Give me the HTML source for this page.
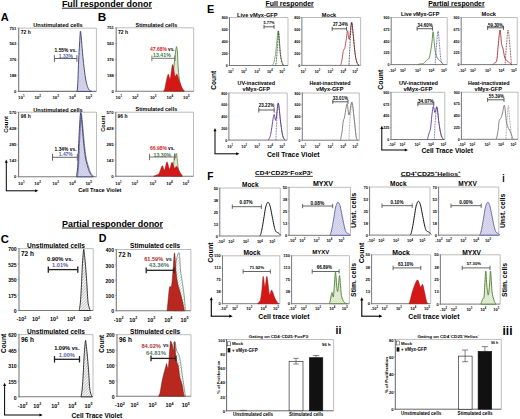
<!DOCTYPE html>
<html><head><meta charset="utf-8"><style>html,body{margin:0;padding:0;background:#fff;width:520px;height:419px;overflow:hidden}svg{display:block}</style></head>
<body><svg width="520" height="419" viewBox="0 0 520 419" font-family='"Liberation Sans", sans-serif'><defs><pattern id="hatchA" patternUnits="userSpaceOnUse" width="1.8" height="1.8" patternTransform="rotate(45)"><rect width="1.8" height="1.8" fill="#dedef0"/><line x1="0" y1="0" x2="0" y2="1.8" stroke="#a0a0cc" stroke-width="0.4"/><line x1="0" y1="0" x2="1.8" y2="0" stroke="#a0a0cc" stroke-width="0.4"/></pattern><pattern id="hatchC" patternUnits="userSpaceOnUse" width="2" height="2" patternTransform="rotate(45)"><rect width="2" height="2" fill="#fff"/><line x1="0" y1="0" x2="0" y2="2" stroke="#555" stroke-width="0.7"/></pattern><pattern id="hatchD" patternUnits="userSpaceOnUse" width="2.2" height="2.2" patternTransform="rotate(45)"><rect width="2.2" height="2.2" fill="#fff"/><line x1="0" y1="0" x2="0" y2="2.2" stroke="#7a9a8e" stroke-width="0.6"/></pattern><pattern id="hatchF" patternUnits="userSpaceOnUse" width="1.6" height="1.6" patternTransform="rotate(45)"><rect width="1.6" height="1.6" fill="#e2e2f2"/><line x1="0" y1="0" x2="0" y2="1.6" stroke="#8a8ac0" stroke-width="0.5"/></pattern><pattern id="hatchG2" patternUnits="userSpaceOnUse" width="1.6" height="1.6" patternTransform="rotate(45)"><rect width="1.6" height="1.6" fill="#edf2e4"/><line x1="0" y1="0" x2="0" y2="1.6" stroke="#9ab27a" stroke-width="0.5"/></pattern></defs><rect width="520" height="419" fill="#fff"/>
<text x="61.90" y="7.05" font-size="8.2" fill="#000" font-weight="bold" textLength="90.10" lengthAdjust="spacingAndGlyphs">Full responder donor</text>
<line x1="61.90" y1="8.20" x2="152.00" y2="8.20" stroke="#000" stroke-width="0.9"/>
<text x="0.80" y="21.03" font-size="11.2" fill="#000" font-weight="bold" textLength="8.00" lengthAdjust="spacingAndGlyphs">A</text>
<text x="97.70" y="20.83" font-size="11.2" fill="#000" font-weight="bold" textLength="8.50" lengthAdjust="spacingAndGlyphs">B</text>
<line x1="18.70" y1="28.10" x2="96.40" y2="28.10" stroke="#a0a0a0" stroke-width="0.7"/>
<line x1="96.40" y1="28.10" x2="96.40" y2="91.40" stroke="#a0a0a0" stroke-width="0.7"/>
<line x1="18.70" y1="27.80" x2="18.70" y2="91.90" stroke="#7a7a7a" stroke-width="1.1"/>
<line x1="18.20" y1="91.40" x2="96.40" y2="91.40" stroke="#7a7a7a" stroke-width="1.1"/>
<line x1="17.40" y1="28.10" x2="18.70" y2="28.10" stroke="#7a7a7a" stroke-width="0.6"/>
<text x="16.40" y="29.61" font-size="4.2" fill="#000" text-anchor="end" font-weight="bold">751</text>
<line x1="17.40" y1="43.93" x2="18.70" y2="43.93" stroke="#7a7a7a" stroke-width="0.6"/>
<text x="16.40" y="45.44" font-size="4.2" fill="#000" text-anchor="end" font-weight="bold">563</text>
<line x1="17.40" y1="59.75" x2="18.70" y2="59.75" stroke="#7a7a7a" stroke-width="0.6"/>
<text x="16.40" y="61.26" font-size="4.2" fill="#000" text-anchor="end" font-weight="bold">376</text>
<line x1="17.40" y1="75.58" x2="18.70" y2="75.58" stroke="#7a7a7a" stroke-width="0.6"/>
<text x="16.40" y="77.09" font-size="4.2" fill="#000" text-anchor="end" font-weight="bold">188</text>
<line x1="17.40" y1="91.40" x2="18.70" y2="91.40" stroke="#7a7a7a" stroke-width="0.6"/>
<text x="16.40" y="92.91" font-size="4.2" fill="#000" text-anchor="end" font-weight="bold">0</text>
<text x="18.10" y="99.18" font-size="4.4" font-weight="bold" fill="#000">10<tspan dy="-1.85" font-size="2.99">1</tspan></text>
<text x="34.40" y="99.18" font-size="4.4" font-weight="bold" fill="#000">10<tspan dy="-1.85" font-size="2.99">2</tspan></text>
<text x="52.40" y="99.18" font-size="4.4" font-weight="bold" fill="#000">10<tspan dy="-1.85" font-size="2.99">3</tspan></text>
<text x="69.10" y="99.18" font-size="4.4" font-weight="bold" fill="#000">10<tspan dy="-1.85" font-size="2.99">4</tspan></text>
<text x="85.50" y="99.18" font-size="4.4" font-weight="bold" fill="#000">10<tspan dy="-1.85" font-size="2.99">5</tspan></text>
<text x="33.20" y="27.42" font-size="5.6" fill="#000" font-weight="bold" textLength="49.50" lengthAdjust="spacingAndGlyphs">Unstimulated cells</text>
<text x="20.80" y="33.78" font-size="4.95" fill="#000" font-weight="bold" textLength="9.90" lengthAdjust="spacingAndGlyphs">72 h</text>
<path d="M76.50,91.40 L76.50,91.40 L76.62,91.18 L76.79,91.10 L76.98,90.89 L77.19,90.30 L77.40,89.09 L77.60,87.00 L77.78,83.75 L77.96,79.49 L78.14,74.60 L78.33,69.47 L78.51,64.47 L78.70,60.00 L78.90,55.87 L79.11,51.74 L79.33,47.74 L79.54,44.03 L79.73,40.73 L79.90,38.00 L80.03,35.82 L80.14,34.07 L80.23,32.74 L80.31,31.82 L80.40,31.28 L80.50,31.10 L80.61,31.28 L80.71,31.82 L80.82,32.74 L80.94,34.07 L81.10,35.82 L81.30,38.00 L81.55,40.84 L81.84,44.36 L82.16,48.31 L82.50,52.40 L82.85,56.39 L83.20,60.00 L83.56,63.34 L83.95,66.65 L84.34,69.84 L84.74,72.85 L85.13,75.60 L85.50,78.00 L85.85,80.02 L86.19,81.71 L86.52,83.14 L86.84,84.37 L87.17,85.47 L87.50,86.50 L87.83,87.44 L88.17,88.21 L88.50,88.86 L88.83,89.41 L89.17,89.88 L89.50,90.30 L89.86,90.65 L90.24,90.91 L90.62,91.09 L90.98,91.21 L91.28,91.31 L91.50,91.40 L91.50,91.40 Z" fill="url(#hatchA)" stroke="#3a3a72" stroke-width="0.9"/>
<text x="54.60" y="51.55" font-size="4.86" fill="#000" font-weight="bold" textLength="21.90" lengthAdjust="spacingAndGlyphs">1.55% vs.</text>
<text x="58.80" y="57.78" font-size="4.94" fill="#5060a8" font-weight="bold" textLength="14.00" lengthAdjust="spacingAndGlyphs">1.33%</text>
<line x1="54.40" y1="58.50" x2="76.90" y2="58.50" stroke="#555" stroke-width="0.9"/>
<line x1="54.40" y1="55.20" x2="54.40" y2="61.80" stroke="#555" stroke-width="0.9"/>
<line x1="76.90" y1="55.20" x2="76.90" y2="61.80" stroke="#555" stroke-width="0.9"/>
<line x1="18.60" y1="112.20" x2="96.50" y2="112.20" stroke="#a0a0a0" stroke-width="0.7"/>
<line x1="96.50" y1="112.20" x2="96.50" y2="176.80" stroke="#a0a0a0" stroke-width="0.7"/>
<line x1="18.60" y1="111.90" x2="18.60" y2="177.30" stroke="#7a7a7a" stroke-width="1.1"/>
<line x1="18.10" y1="176.80" x2="96.50" y2="176.80" stroke="#7a7a7a" stroke-width="1.1"/>
<line x1="17.30" y1="112.20" x2="18.60" y2="112.20" stroke="#7a7a7a" stroke-width="0.6"/>
<text x="16.30" y="113.71" font-size="4.2" fill="#000" text-anchor="end" font-weight="bold">570</text>
<line x1="17.30" y1="128.35" x2="18.60" y2="128.35" stroke="#7a7a7a" stroke-width="0.6"/>
<text x="16.30" y="129.86" font-size="4.2" fill="#000" text-anchor="end" font-weight="bold">428</text>
<line x1="17.30" y1="144.50" x2="18.60" y2="144.50" stroke="#7a7a7a" stroke-width="0.6"/>
<text x="16.30" y="146.01" font-size="4.2" fill="#000" text-anchor="end" font-weight="bold">285</text>
<line x1="17.30" y1="160.65" x2="18.60" y2="160.65" stroke="#7a7a7a" stroke-width="0.6"/>
<text x="16.30" y="162.16" font-size="4.2" fill="#000" text-anchor="end" font-weight="bold">143</text>
<line x1="17.30" y1="176.80" x2="18.60" y2="176.80" stroke="#7a7a7a" stroke-width="0.6"/>
<text x="16.30" y="178.31" font-size="4.2" fill="#000" text-anchor="end" font-weight="bold">0</text>
<text x="18.00" y="184.58" font-size="4.4" font-weight="bold" fill="#000">10<tspan dy="-1.85" font-size="2.99">1</tspan></text>
<text x="34.30" y="184.58" font-size="4.4" font-weight="bold" fill="#000">10<tspan dy="-1.85" font-size="2.99">2</tspan></text>
<text x="52.30" y="184.58" font-size="4.4" font-weight="bold" fill="#000">10<tspan dy="-1.85" font-size="2.99">3</tspan></text>
<text x="69.00" y="184.58" font-size="4.4" font-weight="bold" fill="#000">10<tspan dy="-1.85" font-size="2.99">4</tspan></text>
<text x="85.40" y="184.58" font-size="4.4" font-weight="bold" fill="#000">10<tspan dy="-1.85" font-size="2.99">5</tspan></text>
<text x="33.20" y="111.52" font-size="5.6" fill="#000" font-weight="bold" textLength="49.50" lengthAdjust="spacingAndGlyphs">Unstimulated cells</text>
<text x="20.80" y="117.98" font-size="4.95" fill="#000" font-weight="bold" textLength="9.90" lengthAdjust="spacingAndGlyphs">96 h</text>
<path d="M76.50,176.80 L76.50,176.80 L76.65,175.63 L76.85,174.11 L77.09,172.26 L77.35,170.10 L77.59,167.68 L77.80,165.00 L77.97,161.95 L78.12,158.49 L78.26,154.74 L78.40,150.87 L78.54,147.01 L78.70,143.30 L78.87,139.59 L79.06,135.74 L79.25,131.89 L79.44,128.22 L79.63,124.87 L79.80,122.00 L79.96,119.50 L80.11,117.22 L80.25,115.27 L80.39,113.74 L80.54,112.75 L80.70,112.40 L80.86,112.75 L81.02,113.74 L81.19,115.27 L81.37,117.22 L81.57,119.50 L81.80,122.00 L82.07,124.95 L82.38,128.48 L82.71,132.33 L83.04,136.26 L83.38,140.00 L83.70,143.30 L84.00,146.20 L84.29,148.90 L84.57,151.42 L84.87,153.77 L85.17,155.96 L85.50,158.00 L85.86,159.86 L86.23,161.53 L86.62,163.04 L87.02,164.43 L87.42,165.74 L87.80,167.00 L88.16,168.20 L88.51,169.30 L88.86,170.33 L89.21,171.27 L89.59,172.16 L90.00,173.00 L90.49,173.80 L91.05,174.57 L91.64,175.28 L92.19,175.90 L92.66,176.41 L93.00,176.80 L93.00,176.80 Z" fill="url(#hatchA)" stroke="#3a3a72" stroke-width="0.9"/>
<path d="M77.50,176.80 L77.62,175.63 L77.79,174.11 L77.99,172.26 L78.21,170.10 L78.42,167.68 L78.60,165.00 L78.76,161.95 L78.91,158.49 L79.05,154.74 L79.19,150.87 L79.34,147.01 L79.50,143.30 L79.68,139.58 L79.87,135.70 L80.06,131.83 L80.26,128.14 L80.44,124.80 L80.60,122.00 L80.74,119.65 L80.85,117.59 L80.95,115.89 L81.05,114.60 L81.16,113.78 L81.30,113.50 L81.45,113.78 L81.61,114.60 L81.77,115.89 L81.96,117.59 L82.17,119.65 L82.40,122.00 L82.67,124.89 L82.97,128.40 L83.30,132.26 L83.64,136.21 L83.97,139.98 L84.30,143.30 L84.61,146.20 L84.91,148.90 L85.22,151.42 L85.53,153.77 L85.85,155.96 L86.20,158.00 L86.57,159.86 L86.97,161.53 L87.38,163.04 L87.80,164.43 L88.21,165.74 L88.60,167.00 L88.97,168.20 L89.31,169.30 L89.65,170.33 L90.00,171.27 L90.38,172.16 L90.80,173.00 L91.31,173.80 L91.91,174.57 L92.54,175.28 L93.13,175.90 L93.64,176.41 L94.00,176.80" fill="none" stroke="#3a3a72" stroke-width="0.6"/>
<text x="54.60" y="150.65" font-size="4.86" fill="#000" font-weight="bold" textLength="21.90" lengthAdjust="spacingAndGlyphs">1.34% vs.</text>
<text x="58.80" y="156.46" font-size="4.9" fill="#5060a8" font-weight="bold" textLength="13.90" lengthAdjust="spacingAndGlyphs">1.47%</text>
<line x1="52.50" y1="157.30" x2="77.30" y2="157.30" stroke="#555" stroke-width="0.9"/>
<line x1="52.50" y1="153.90" x2="52.50" y2="160.70" stroke="#555" stroke-width="0.9"/>
<line x1="77.30" y1="153.90" x2="77.30" y2="160.70" stroke="#555" stroke-width="0.9"/>
<line x1="116.20" y1="27.80" x2="193.70" y2="27.80" stroke="#a0a0a0" stroke-width="0.7"/>
<line x1="193.70" y1="27.80" x2="193.70" y2="91.20" stroke="#a0a0a0" stroke-width="0.7"/>
<line x1="116.20" y1="27.50" x2="116.20" y2="91.70" stroke="#7a7a7a" stroke-width="1.1"/>
<line x1="115.70" y1="91.20" x2="193.70" y2="91.20" stroke="#7a7a7a" stroke-width="1.1"/>
<line x1="114.90" y1="27.80" x2="116.20" y2="27.80" stroke="#7a7a7a" stroke-width="0.6"/>
<text x="113.90" y="29.31" font-size="4.2" fill="#000" text-anchor="end" font-weight="bold">751</text>
<line x1="114.90" y1="43.65" x2="116.20" y2="43.65" stroke="#7a7a7a" stroke-width="0.6"/>
<text x="113.90" y="45.16" font-size="4.2" fill="#000" text-anchor="end" font-weight="bold">563</text>
<line x1="114.90" y1="59.50" x2="116.20" y2="59.50" stroke="#7a7a7a" stroke-width="0.6"/>
<text x="113.90" y="61.01" font-size="4.2" fill="#000" text-anchor="end" font-weight="bold">376</text>
<line x1="114.90" y1="75.35" x2="116.20" y2="75.35" stroke="#7a7a7a" stroke-width="0.6"/>
<text x="113.90" y="76.86" font-size="4.2" fill="#000" text-anchor="end" font-weight="bold">188</text>
<line x1="114.90" y1="91.20" x2="116.20" y2="91.20" stroke="#7a7a7a" stroke-width="0.6"/>
<text x="113.90" y="92.71" font-size="4.2" fill="#000" text-anchor="end" font-weight="bold">0</text>
<text x="115.60" y="99.08" font-size="4.4" font-weight="bold" fill="#000">10<tspan dy="-1.85" font-size="2.99">1</tspan></text>
<text x="131.90" y="99.08" font-size="4.4" font-weight="bold" fill="#000">10<tspan dy="-1.85" font-size="2.99">2</tspan></text>
<text x="149.90" y="99.08" font-size="4.4" font-weight="bold" fill="#000">10<tspan dy="-1.85" font-size="2.99">3</tspan></text>
<text x="166.60" y="99.08" font-size="4.4" font-weight="bold" fill="#000">10<tspan dy="-1.85" font-size="2.99">4</tspan></text>
<text x="183.00" y="99.08" font-size="4.4" font-weight="bold" fill="#000">10<tspan dy="-1.85" font-size="2.99">5</tspan></text>
<text x="135.60" y="27.37" font-size="5.46" fill="#000" font-weight="bold" textLength="41.60" lengthAdjust="spacingAndGlyphs">Stimulated cells</text>
<text x="118.00" y="33.80" font-size="5.0" fill="#000" font-weight="bold" textLength="10.00" lengthAdjust="spacingAndGlyphs">72 h</text>
<path d="M171.00,91.20 L171.00,91.20 L171.17,89.97 L171.41,88.25 L171.69,86.23 L171.98,84.06 L172.26,81.93 L172.50,80.00 L172.69,78.32 L172.84,76.76 L172.99,75.24 L173.13,73.66 L173.30,71.94 L173.50,70.00 L173.75,67.71 L174.03,65.13 L174.33,62.40 L174.64,59.70 L174.93,57.18 L175.20,55.00 L175.44,53.02 L175.67,51.09 L175.89,49.34 L176.10,47.91 L176.30,46.95 L176.50,46.60 L176.70,46.95 L176.90,47.91 L177.09,49.34 L177.27,51.09 L177.44,53.02 L177.60,55.00 L177.73,57.14 L177.83,59.59 L177.91,62.21 L178.01,64.90 L178.13,67.54 L178.30,70.00 L178.52,72.36 L178.78,74.72 L179.07,77.03 L179.37,79.22 L179.69,81.23 L180.00,83.00 L180.32,84.52 L180.64,85.83 L180.98,86.96 L181.32,87.93 L181.66,88.77 L182.00,89.50 L182.36,90.08 L182.74,90.49 L183.12,90.76 L183.48,90.94 L183.78,91.07 L184.00,91.20 L184.00,91.20 Z" fill="#dfe9d3" stroke="#4f7a2c" stroke-width="0.8"/>
<path d="M163.50,91.20 L163.50,91.20 L163.62,91.04 L163.79,90.88 L163.99,90.66 L164.21,90.32 L164.45,89.79 L164.70,89.00 L164.97,87.86 L165.26,86.39 L165.56,84.72 L165.88,83.01 L166.19,81.39 L166.50,80.00 L166.80,78.73 L167.10,77.46 L167.39,76.27 L167.69,75.27 L167.99,74.55 L168.30,74.20 L168.61,74.54 L168.91,75.56 L169.21,76.86 L169.53,78.05 L169.85,78.73 L170.20,78.50 L170.57,76.93 L170.96,74.24 L171.37,71.05 L171.78,67.96 L172.19,65.57 L172.60,64.50 L173.01,65.09 L173.42,66.94 L173.83,69.49 L174.24,72.21 L174.63,74.56 L175.00,76.00 L175.34,76.37 L175.65,76.07 L175.95,75.39 L176.25,74.66 L176.56,74.16 L176.90,74.20 L177.26,74.83 L177.64,75.81 L178.03,77.04 L178.44,78.39 L178.86,79.74 L179.30,81.00 L179.77,82.23 L180.29,83.53 L180.81,84.84 L181.34,86.10 L181.84,87.24 L182.30,88.20 L182.74,88.98 L183.17,89.62 L183.59,90.15 L183.96,90.58 L184.27,90.92 L184.50,91.20 L184.50,91.20 Z" fill="#d41818" stroke="#8a1010" stroke-width="0.4"/>
<text x="150.00" y="51.19" font-size="4.98" fill="#d41818" font-weight="bold" textLength="16.90" lengthAdjust="spacingAndGlyphs">47.68%</text>
<text x="168.10" y="51.08" font-size="4.68" fill="#000" font-weight="bold" textLength="6.50" lengthAdjust="spacingAndGlyphs">vs.</text>
<text x="153.10" y="56.88" font-size="5.22" fill="#3d7a3d" font-weight="bold" textLength="17.70" lengthAdjust="spacingAndGlyphs">13.41%</text>
<line x1="151.90" y1="58.30" x2="175.00" y2="58.30" stroke="#666" stroke-width="0.9"/>
<line x1="151.90" y1="55.40" x2="151.90" y2="61.20" stroke="#666" stroke-width="0.9"/>
<line x1="175.00" y1="55.40" x2="175.00" y2="61.20" stroke="#666" stroke-width="0.9"/>
<line x1="115.80" y1="112.20" x2="193.50" y2="112.20" stroke="#a0a0a0" stroke-width="0.7"/>
<line x1="193.50" y1="112.20" x2="193.50" y2="176.30" stroke="#a0a0a0" stroke-width="0.7"/>
<line x1="115.80" y1="111.90" x2="115.80" y2="176.80" stroke="#7a7a7a" stroke-width="1.1"/>
<line x1="115.30" y1="176.30" x2="193.50" y2="176.30" stroke="#7a7a7a" stroke-width="1.1"/>
<line x1="114.50" y1="112.20" x2="115.80" y2="112.20" stroke="#7a7a7a" stroke-width="0.6"/>
<text x="113.50" y="113.71" font-size="4.2" fill="#000" text-anchor="end" font-weight="bold">570</text>
<line x1="114.50" y1="128.22" x2="115.80" y2="128.22" stroke="#7a7a7a" stroke-width="0.6"/>
<text x="113.50" y="129.74" font-size="4.2" fill="#000" text-anchor="end" font-weight="bold">428</text>
<line x1="114.50" y1="144.25" x2="115.80" y2="144.25" stroke="#7a7a7a" stroke-width="0.6"/>
<text x="113.50" y="145.76" font-size="4.2" fill="#000" text-anchor="end" font-weight="bold">285</text>
<line x1="114.50" y1="160.28" x2="115.80" y2="160.28" stroke="#7a7a7a" stroke-width="0.6"/>
<text x="113.50" y="161.79" font-size="4.2" fill="#000" text-anchor="end" font-weight="bold">143</text>
<line x1="114.50" y1="176.30" x2="115.80" y2="176.30" stroke="#7a7a7a" stroke-width="0.6"/>
<text x="113.50" y="177.81" font-size="4.2" fill="#000" text-anchor="end" font-weight="bold">0</text>
<text x="115.20" y="184.58" font-size="4.4" font-weight="bold" fill="#000">10<tspan dy="-1.85" font-size="2.99">1</tspan></text>
<text x="131.50" y="184.58" font-size="4.4" font-weight="bold" fill="#000">10<tspan dy="-1.85" font-size="2.99">2</tspan></text>
<text x="149.50" y="184.58" font-size="4.4" font-weight="bold" fill="#000">10<tspan dy="-1.85" font-size="2.99">3</tspan></text>
<text x="166.20" y="184.58" font-size="4.4" font-weight="bold" fill="#000">10<tspan dy="-1.85" font-size="2.99">4</tspan></text>
<text x="182.60" y="184.58" font-size="4.4" font-weight="bold" fill="#000">10<tspan dy="-1.85" font-size="2.99">5</tspan></text>
<text x="135.60" y="111.47" font-size="5.46" fill="#000" font-weight="bold" textLength="41.60" lengthAdjust="spacingAndGlyphs">Stimulated cells</text>
<text x="117.60" y="118.00" font-size="5.0" fill="#000" font-weight="bold" textLength="10.00" lengthAdjust="spacingAndGlyphs">96 h</text>
<path d="M172.50,176.30 L172.50,176.30 L172.61,175.15 L172.77,173.54 L172.96,171.65 L173.15,169.64 L173.34,167.70 L173.50,166.00 L173.63,164.49 L173.76,163.03 L173.87,161.63 L173.98,160.31 L174.09,159.10 L174.20,158.00 L174.32,156.96 L174.43,155.94 L174.54,155.02 L174.66,154.28 L174.78,153.78 L174.90,153.60 L175.03,153.93 L175.16,154.75 L175.29,155.81 L175.43,156.87 L175.57,157.69 L175.70,158.00 L175.83,157.62 L175.97,156.72 L176.10,155.56 L176.23,154.44 L176.37,153.62 L176.50,153.40 L176.63,153.81 L176.75,154.64 L176.88,155.79 L177.00,157.13 L177.14,158.57 L177.30,160.00 L177.47,161.53 L177.66,163.27 L177.86,165.10 L178.06,166.91 L178.28,168.58 L178.50,170.00 L178.74,171.17 L179.00,172.17 L179.26,173.04 L179.53,173.79 L179.78,174.44 L180.00,175.00 L180.21,175.45 L180.41,175.76 L180.59,175.96 L180.76,176.10 L180.90,176.20 L181.00,176.30 L181.00,176.30 Z" fill="#dfe9d3" stroke="#4f7a2c" stroke-width="0.7"/>
<path d="M153.50,176.30 L153.50,176.30 L153.77,176.19 L154.13,176.04 L154.56,175.86 L155.04,175.65 L155.53,175.43 L156.00,175.20 L156.47,175.02 L156.96,174.90 L157.46,174.76 L157.97,174.53 L158.48,174.14 L159.00,173.50 L159.53,172.43 L160.09,170.94 L160.64,169.28 L161.19,167.71 L161.72,166.46 L162.20,165.80 L162.63,165.95 L163.03,166.78 L163.39,167.93 L163.75,169.08 L164.12,169.88 L164.50,170.00 L164.91,169.17 L165.32,167.61 L165.74,165.71 L166.16,163.85 L166.58,162.42 L167.00,161.80 L167.42,162.27 L167.83,163.58 L168.25,165.31 L168.67,167.07 L169.08,168.43 L169.50,169.00 L169.92,168.53 L170.33,167.30 L170.75,165.68 L171.17,164.04 L171.58,162.76 L172.00,162.20 L172.42,162.54 L172.84,163.51 L173.27,164.84 L173.69,166.23 L174.10,167.42 L174.50,168.10 L174.87,168.16 L175.22,167.79 L175.56,167.20 L175.90,166.61 L176.28,166.24 L176.70,166.30 L177.18,166.86 L177.71,167.76 L178.27,168.88 L178.83,170.08 L179.38,171.23 L179.90,172.20 L180.41,173.03 L180.94,173.85 L181.45,174.62 L181.92,175.30 L182.31,175.87 L182.60,176.30 L182.60,176.30 Z" fill="#d41818" stroke="#8a1010" stroke-width="0.4"/>
<text x="150.00" y="150.09" font-size="4.98" fill="#d41818" font-weight="bold" textLength="16.90" lengthAdjust="spacingAndGlyphs">66.98%</text>
<text x="168.10" y="149.98" font-size="4.68" fill="#000" font-weight="bold" textLength="6.50" lengthAdjust="spacingAndGlyphs">vs.</text>
<text x="153.50" y="156.58" font-size="5.22" fill="#3d7a3d" font-weight="bold" textLength="17.70" lengthAdjust="spacingAndGlyphs">13.30%</text>
<line x1="149.50" y1="157.00" x2="174.60" y2="157.00" stroke="#666" stroke-width="0.9"/>
<line x1="149.50" y1="153.80" x2="149.50" y2="160.20" stroke="#666" stroke-width="0.9"/>
<line x1="174.60" y1="153.80" x2="174.60" y2="160.20" stroke="#666" stroke-width="0.9"/>
<text x="8.16" y="124.50" font-size="6.0" fill="#000" text-anchor="middle" font-weight="bold" textLength="16.70" lengthAdjust="spacingAndGlyphs" transform="rotate(-90 8.16 124.50)">Count</text>
<text x="104.56" y="123.60" font-size="6.0" fill="#000" text-anchor="middle" font-weight="bold" textLength="16.20" lengthAdjust="spacingAndGlyphs" transform="rotate(-90 104.56 123.60)">Count</text>
<text x="78.20" y="191.82" font-size="5.62" fill="#000" font-weight="bold" textLength="43.30" lengthAdjust="spacingAndGlyphs">Cell Trace Violet</text>
<line x1="6.30" y1="190.80" x2="6.30" y2="161.50" stroke="#000" stroke-width="1.0"/>
<line x1="5.80" y1="190.80" x2="36.30" y2="190.80" stroke="#000" stroke-width="1.0"/>
<path d="M6.30,159.50 L4.80,162.70 L7.80,162.70 Z" fill="#000" stroke="none" stroke-width="1"/>
<path d="M38.30,190.80 L35.10,189.30 L35.10,192.30 Z" fill="#000" stroke="none" stroke-width="1"/>
<text x="62.00" y="227.15" font-size="8.2" fill="#000" font-weight="bold" textLength="101.00" lengthAdjust="spacingAndGlyphs">Partial responder donor</text>
<line x1="62.00" y1="228.00" x2="163.00" y2="228.00" stroke="#000" stroke-width="0.9"/>
<text x="0.80" y="242.53" font-size="11.2" fill="#000" font-weight="bold" textLength="8.20" lengthAdjust="spacingAndGlyphs">C</text>
<text x="98.80" y="242.23" font-size="11.2" fill="#000" font-weight="bold" textLength="7.70" lengthAdjust="spacingAndGlyphs">D</text>
<line x1="19.00" y1="248.60" x2="93.20" y2="248.60" stroke="#a0a0a0" stroke-width="0.7"/>
<line x1="93.20" y1="248.60" x2="93.20" y2="310.50" stroke="#a0a0a0" stroke-width="0.7"/>
<line x1="19.00" y1="248.30" x2="19.00" y2="311.00" stroke="#7a7a7a" stroke-width="1.1"/>
<line x1="18.50" y1="310.50" x2="93.20" y2="310.50" stroke="#7a7a7a" stroke-width="1.1"/>
<line x1="17.70" y1="248.60" x2="19.00" y2="248.60" stroke="#7a7a7a" stroke-width="0.6"/>
<text x="16.70" y="251.34" font-size="5.1" fill="#000" text-anchor="end" font-weight="bold">700</text>
<line x1="17.70" y1="264.07" x2="19.00" y2="264.07" stroke="#7a7a7a" stroke-width="0.6"/>
<text x="16.70" y="266.81" font-size="5.1" fill="#000" text-anchor="end" font-weight="bold">525</text>
<line x1="17.70" y1="279.55" x2="19.00" y2="279.55" stroke="#7a7a7a" stroke-width="0.6"/>
<text x="16.70" y="282.29" font-size="5.1" fill="#000" text-anchor="end" font-weight="bold">350</text>
<line x1="17.70" y1="295.02" x2="19.00" y2="295.02" stroke="#7a7a7a" stroke-width="0.6"/>
<text x="16.70" y="297.76" font-size="5.1" fill="#000" text-anchor="end" font-weight="bold">175</text>
<line x1="17.70" y1="310.50" x2="19.00" y2="310.50" stroke="#7a7a7a" stroke-width="0.6"/>
<text x="16.70" y="313.24" font-size="5.1" fill="#000" text-anchor="end" font-weight="bold">0</text>
<text x="16.50" y="321.34" font-size="5.4" font-weight="bold" fill="#000">-10<tspan dy="-2.27" font-size="3.67">2</tspan></text>
<text x="31.90" y="321.34" font-size="5.4" font-weight="bold" fill="#000">10<tspan dy="-2.27" font-size="3.67">2</tspan></text>
<text x="49.90" y="321.34" font-size="5.4" font-weight="bold" fill="#000">10<tspan dy="-2.27" font-size="3.67">3</tspan></text>
<text x="67.00" y="321.34" font-size="5.4" font-weight="bold" fill="#000">10<tspan dy="-2.27" font-size="3.67">4</tspan></text>
<text x="83.20" y="321.34" font-size="5.4" font-weight="bold" fill="#000">10<tspan dy="-2.27" font-size="3.67">5</tspan></text>
<text x="27.00" y="247.96" font-size="6.56" fill="#000" font-weight="bold" textLength="58.00" lengthAdjust="spacingAndGlyphs">Unstimulated cells</text>
<text x="21.00" y="255.82" font-size="6.45" fill="#000" font-weight="bold" textLength="12.90" lengthAdjust="spacingAndGlyphs">72 h</text>
<path d="M79.20,310.50 L79.20,310.50 L79.33,309.69 L79.51,308.65 L79.73,307.38 L79.96,305.87 L80.19,304.09 L80.40,302.04 L80.59,299.62 L80.79,296.80 L80.97,293.73 L81.16,290.53 L81.34,287.33 L81.50,284.27 L81.64,281.30 L81.77,278.33 L81.89,275.36 L82.01,272.41 L82.14,269.48 L82.30,266.59 L82.49,263.51 L82.71,260.17 L82.95,256.87 L83.19,253.86 L83.41,251.45 L83.60,249.90 L83.76,249.33 L83.89,249.53 L84.01,250.31 L84.12,251.50 L84.25,252.91 L84.40,254.34 L84.58,255.87 L84.77,257.65 L84.97,259.64 L85.18,261.82 L85.39,264.15 L85.60,266.59 L85.81,269.23 L86.03,272.09 L86.26,275.10 L86.48,278.18 L86.69,281.26 L86.90,284.27 L87.09,287.32 L87.26,290.52 L87.43,293.71 L87.60,296.76 L87.79,299.51 L88.00,301.83 L88.25,303.67 L88.53,305.16 L88.82,306.35 L89.11,307.32 L89.37,308.13 L89.60,308.87 L89.79,309.48 L89.96,309.88 L90.10,310.13 L90.22,310.28 L90.32,310.39 L90.40,310.50 L90.40,310.50 Z" fill="url(#hatchC)" stroke="#222" stroke-width="0.9"/>
<text x="47.00" y="260.90" font-size="5.82" fill="#000" font-weight="bold" textLength="26.20" lengthAdjust="spacingAndGlyphs">0.90% vs.</text>
<text x="52.00" y="267.46" font-size="5.71" fill="#5060a8" font-weight="bold" textLength="16.20" lengthAdjust="spacingAndGlyphs">1.01%</text>
<line x1="48.30" y1="269.60" x2="77.80" y2="269.60" stroke="#222" stroke-width="1.3"/>
<line x1="48.30" y1="266.50" x2="48.30" y2="272.70" stroke="#222" stroke-width="1.3"/>
<line x1="77.80" y1="266.50" x2="77.80" y2="272.70" stroke="#222" stroke-width="1.3"/>
<line x1="19.00" y1="334.60" x2="93.00" y2="334.60" stroke="#a0a0a0" stroke-width="0.7"/>
<line x1="93.00" y1="334.60" x2="93.00" y2="396.80" stroke="#a0a0a0" stroke-width="0.7"/>
<line x1="19.00" y1="334.30" x2="19.00" y2="397.30" stroke="#7a7a7a" stroke-width="1.1"/>
<line x1="18.50" y1="396.80" x2="93.00" y2="396.80" stroke="#7a7a7a" stroke-width="1.1"/>
<line x1="17.70" y1="334.60" x2="19.00" y2="334.60" stroke="#7a7a7a" stroke-width="0.6"/>
<text x="16.70" y="337.34" font-size="5.1" fill="#000" text-anchor="end" font-weight="bold">620</text>
<line x1="17.70" y1="350.15" x2="19.00" y2="350.15" stroke="#7a7a7a" stroke-width="0.6"/>
<text x="16.70" y="352.89" font-size="5.1" fill="#000" text-anchor="end" font-weight="bold">465</text>
<line x1="17.70" y1="365.70" x2="19.00" y2="365.70" stroke="#7a7a7a" stroke-width="0.6"/>
<text x="16.70" y="368.44" font-size="5.1" fill="#000" text-anchor="end" font-weight="bold">310</text>
<line x1="17.70" y1="381.25" x2="19.00" y2="381.25" stroke="#7a7a7a" stroke-width="0.6"/>
<text x="16.70" y="383.99" font-size="5.1" fill="#000" text-anchor="end" font-weight="bold">155</text>
<line x1="17.70" y1="396.80" x2="19.00" y2="396.80" stroke="#7a7a7a" stroke-width="0.6"/>
<text x="16.70" y="399.54" font-size="5.1" fill="#000" text-anchor="end" font-weight="bold">0</text>
<text x="17.80" y="407.74" font-size="5.4" font-weight="bold" fill="#000">-10<tspan dy="-2.27" font-size="3.67">2</tspan></text>
<text x="33.20" y="407.74" font-size="5.4" font-weight="bold" fill="#000">10<tspan dy="-2.27" font-size="3.67">2</tspan></text>
<text x="51.20" y="407.74" font-size="5.4" font-weight="bold" fill="#000">10<tspan dy="-2.27" font-size="3.67">3</tspan></text>
<text x="68.30" y="407.74" font-size="5.4" font-weight="bold" fill="#000">10<tspan dy="-2.27" font-size="3.67">4</tspan></text>
<text x="84.50" y="407.74" font-size="5.4" font-weight="bold" fill="#000">10<tspan dy="-2.27" font-size="3.67">5</tspan></text>
<text x="27.00" y="333.96" font-size="6.56" fill="#000" font-weight="bold" textLength="58.00" lengthAdjust="spacingAndGlyphs">Unstimulated cells</text>
<text x="21.00" y="342.12" font-size="6.45" fill="#000" font-weight="bold" textLength="12.90" lengthAdjust="spacingAndGlyphs">96 h</text>
<path d="M81.00,396.80 L81.00,396.80 L81.13,396.05 L81.31,395.10 L81.53,393.93 L81.76,392.53 L81.99,390.89 L82.20,389.00 L82.39,386.76 L82.59,384.17 L82.78,381.33 L82.96,378.38 L83.14,375.43 L83.30,372.60 L83.44,369.87 L83.57,367.13 L83.69,364.39 L83.81,361.66 L83.94,358.96 L84.10,356.30 L84.29,353.46 L84.51,350.38 L84.75,347.33 L84.99,344.56 L85.21,342.33 L85.40,340.90 L85.56,340.37 L85.69,340.56 L85.81,341.28 L85.92,342.38 L86.05,343.67 L86.20,345.00 L86.38,346.41 L86.57,348.05 L86.77,349.89 L86.98,351.90 L87.19,354.04 L87.40,356.30 L87.61,358.73 L87.83,361.37 L88.06,364.14 L88.28,366.99 L88.49,369.83 L88.70,372.60 L88.89,375.42 L89.06,378.37 L89.23,381.31 L89.40,384.12 L89.59,386.66 L89.80,388.80 L90.05,390.50 L90.33,391.87 L90.62,392.97 L90.91,393.86 L91.17,394.62 L91.40,395.30 L91.59,395.86 L91.76,396.23 L91.90,396.46 L92.02,396.60 L92.12,396.69 L92.20,396.80 L92.20,396.80 Z" fill="url(#hatchC)" stroke="#222" stroke-width="0.9"/>
<text x="54.20" y="350.32" font-size="5.62" fill="#000" font-weight="bold" textLength="25.30" lengthAdjust="spacingAndGlyphs">1.09% vs.</text>
<text x="58.80" y="356.94" font-size="5.68" fill="#5060a8" font-weight="bold" textLength="16.10" lengthAdjust="spacingAndGlyphs">1.00%</text>
<line x1="54.50" y1="359.30" x2="79.50" y2="359.30" stroke="#222" stroke-width="1.3"/>
<line x1="54.50" y1="356.10" x2="54.50" y2="362.50" stroke="#222" stroke-width="1.3"/>
<line x1="79.50" y1="356.10" x2="79.50" y2="362.50" stroke="#222" stroke-width="1.3"/>
<line x1="116.30" y1="249.50" x2="190.90" y2="249.50" stroke="#a0a0a0" stroke-width="0.7"/>
<line x1="190.90" y1="249.50" x2="190.90" y2="310.70" stroke="#a0a0a0" stroke-width="0.7"/>
<line x1="116.30" y1="249.20" x2="116.30" y2="311.20" stroke="#7a7a7a" stroke-width="1.1"/>
<line x1="115.80" y1="310.70" x2="190.90" y2="310.70" stroke="#7a7a7a" stroke-width="1.1"/>
<line x1="115.00" y1="249.50" x2="116.30" y2="249.50" stroke="#7a7a7a" stroke-width="0.6"/>
<text x="114.00" y="252.24" font-size="5.1" fill="#000" text-anchor="end" font-weight="bold">400</text>
<line x1="115.00" y1="264.80" x2="116.30" y2="264.80" stroke="#7a7a7a" stroke-width="0.6"/>
<text x="114.00" y="267.54" font-size="5.1" fill="#000" text-anchor="end" font-weight="bold">300</text>
<line x1="115.00" y1="280.10" x2="116.30" y2="280.10" stroke="#7a7a7a" stroke-width="0.6"/>
<text x="114.00" y="282.84" font-size="5.1" fill="#000" text-anchor="end" font-weight="bold">200</text>
<line x1="115.00" y1="295.40" x2="116.30" y2="295.40" stroke="#7a7a7a" stroke-width="0.6"/>
<text x="114.00" y="298.14" font-size="5.1" fill="#000" text-anchor="end" font-weight="bold">100</text>
<line x1="115.00" y1="310.70" x2="116.30" y2="310.70" stroke="#7a7a7a" stroke-width="0.6"/>
<text x="114.00" y="313.44" font-size="5.1" fill="#000" text-anchor="end" font-weight="bold">0</text>
<text x="113.80" y="321.64" font-size="5.4" font-weight="bold" fill="#000">-10<tspan dy="-2.27" font-size="3.67">2</tspan></text>
<text x="129.20" y="321.64" font-size="5.4" font-weight="bold" fill="#000">10<tspan dy="-2.27" font-size="3.67">2</tspan></text>
<text x="147.20" y="321.64" font-size="5.4" font-weight="bold" fill="#000">10<tspan dy="-2.27" font-size="3.67">3</tspan></text>
<text x="164.30" y="321.64" font-size="5.4" font-weight="bold" fill="#000">10<tspan dy="-2.27" font-size="3.67">4</tspan></text>
<text x="180.50" y="321.64" font-size="5.4" font-weight="bold" fill="#000">10<tspan dy="-2.27" font-size="3.67">5</tspan></text>
<text x="130.10" y="247.97" font-size="6.59" fill="#000" font-weight="bold" textLength="50.20" lengthAdjust="spacingAndGlyphs">Stimulated cells</text>
<text x="118.30" y="257.12" font-size="6.45" fill="#000" font-weight="bold" textLength="12.90" lengthAdjust="spacingAndGlyphs">72 h</text>
<path d="M174.00,310.70 L174.00,300.00 L174.16,296.29 L174.38,290.96 L174.64,284.75 L174.92,278.37 L175.22,272.55 L175.50,268.00 L175.78,264.74 L176.08,262.19 L176.38,260.20 L176.69,258.61 L177.00,257.26 L177.30,256.00 L177.61,254.86 L177.94,253.97 L178.27,253.32 L178.58,252.92 L178.86,252.75 L179.10,252.80 L179.28,253.09 L179.41,253.62 L179.51,254.39 L179.60,255.38 L179.69,256.58 L179.80,258.00 L179.91,259.69 L180.00,261.68 L180.10,263.89 L180.22,266.23 L180.38,268.63 L180.60,271.00 L180.91,273.42 L181.29,275.96 L181.71,278.56 L182.14,281.15 L182.55,283.65 L182.90,286.00 L183.20,288.17 L183.48,290.20 L183.73,292.14 L183.97,294.06 L184.19,295.99 L184.40,298.00 L184.61,300.22 L184.81,302.65 L184.99,305.10 L185.16,307.38 L185.30,309.31 L185.40,310.70 L185.40,310.70 Z" fill="url(#hatchD)" stroke="#5a7a6a" stroke-width="0.7"/>
<path d="M167.00,310.70 L167.00,310.70 L167.05,310.35 L167.11,309.99 L167.18,309.49 L167.28,308.75 L167.42,307.62 L167.60,306.00 L167.84,303.54 L168.13,300.29 L168.46,296.66 L168.81,293.07 L169.16,289.95 L169.50,287.70 L169.83,286.61 L170.18,286.40 L170.53,286.64 L170.87,286.94 L171.19,286.86 L171.50,286.00 L171.78,284.31 L172.04,282.10 L172.28,279.53 L172.52,276.73 L172.76,273.84 L173.00,271.00 L173.25,267.73 L173.50,263.82 L173.75,259.83 L174.00,256.29 L174.25,253.76 L174.50,252.80 L174.75,253.80 L175.00,256.40 L175.24,260.01 L175.49,264.04 L175.74,267.90 L176.00,271.00 L176.24,273.37 L176.47,275.50 L176.71,277.46 L176.96,279.32 L177.25,281.14 L177.60,283.00 L178.03,284.89 L178.52,286.75 L179.06,288.58 L179.60,290.36 L180.12,292.11 L180.60,293.80 L181.03,295.44 L181.45,297.04 L181.84,298.59 L182.22,300.10 L182.57,301.57 L182.90,303.00 L183.21,304.46 L183.51,305.96 L183.79,307.43 L184.04,308.76 L184.25,309.88 L184.40,310.70 L184.40,310.70 Z" fill="#b8281f" stroke="#6a1410" stroke-width="0.5"/>
<text x="144.20" y="260.81" font-size="5.57" fill="#b02828" font-weight="bold" textLength="18.90" lengthAdjust="spacingAndGlyphs">61.59%</text>
<text x="165.80" y="260.77" font-size="5.48" fill="#222244" font-weight="bold" textLength="6.10" lengthAdjust="spacingAndGlyphs">vs</text>
<text x="148.80" y="267.47" font-size="6.02" fill="#4a7a6a" font-weight="bold" textLength="20.40" lengthAdjust="spacingAndGlyphs">43.36%</text>
<line x1="146.20" y1="270.30" x2="174.00" y2="270.30" stroke="#222" stroke-width="1.3"/>
<line x1="146.20" y1="267.40" x2="146.20" y2="273.20" stroke="#222" stroke-width="1.3"/>
<line x1="174.00" y1="267.40" x2="174.00" y2="273.20" stroke="#222" stroke-width="1.3"/>
<line x1="117.00" y1="334.70" x2="191.00" y2="334.70" stroke="#a0a0a0" stroke-width="0.7"/>
<line x1="191.00" y1="334.70" x2="191.00" y2="396.20" stroke="#a0a0a0" stroke-width="0.7"/>
<line x1="117.00" y1="334.40" x2="117.00" y2="396.70" stroke="#7a7a7a" stroke-width="1.1"/>
<line x1="116.50" y1="396.20" x2="191.00" y2="396.20" stroke="#7a7a7a" stroke-width="1.1"/>
<line x1="115.70" y1="334.70" x2="117.00" y2="334.70" stroke="#7a7a7a" stroke-width="0.6"/>
<text x="114.70" y="337.44" font-size="5.1" fill="#000" text-anchor="end" font-weight="bold">200</text>
<line x1="115.70" y1="350.07" x2="117.00" y2="350.07" stroke="#7a7a7a" stroke-width="0.6"/>
<text x="114.70" y="352.81" font-size="5.1" fill="#000" text-anchor="end" font-weight="bold">150</text>
<line x1="115.70" y1="365.45" x2="117.00" y2="365.45" stroke="#7a7a7a" stroke-width="0.6"/>
<text x="114.70" y="368.19" font-size="5.1" fill="#000" text-anchor="end" font-weight="bold">100</text>
<line x1="115.70" y1="380.82" x2="117.00" y2="380.82" stroke="#7a7a7a" stroke-width="0.6"/>
<text x="114.70" y="383.56" font-size="5.1" fill="#000" text-anchor="end" font-weight="bold">50</text>
<line x1="115.70" y1="396.20" x2="117.00" y2="396.20" stroke="#7a7a7a" stroke-width="0.6"/>
<text x="114.70" y="398.94" font-size="5.1" fill="#000" text-anchor="end" font-weight="bold">0</text>
<text x="115.00" y="407.44" font-size="5.4" font-weight="bold" fill="#000">-10<tspan dy="-2.27" font-size="3.67">2</tspan></text>
<text x="130.40" y="407.44" font-size="5.4" font-weight="bold" fill="#000">10<tspan dy="-2.27" font-size="3.67">2</tspan></text>
<text x="148.40" y="407.44" font-size="5.4" font-weight="bold" fill="#000">10<tspan dy="-2.27" font-size="3.67">3</tspan></text>
<text x="165.50" y="407.44" font-size="5.4" font-weight="bold" fill="#000">10<tspan dy="-2.27" font-size="3.67">4</tspan></text>
<text x="181.70" y="407.44" font-size="5.4" font-weight="bold" fill="#000">10<tspan dy="-2.27" font-size="3.67">5</tspan></text>
<text x="130.10" y="333.67" font-size="6.59" fill="#000" font-weight="bold" textLength="50.20" lengthAdjust="spacingAndGlyphs">Stimulated cells</text>
<text x="119.00" y="342.12" font-size="6.45" fill="#000" font-weight="bold" textLength="12.90" lengthAdjust="spacingAndGlyphs">96 h</text>
<path d="M170.00,396.20 L170.00,360.00 L170.21,358.63 L170.49,356.70 L170.83,354.43 L171.20,352.06 L171.60,349.84 L172.00,348.00 L172.43,346.39 L172.91,344.77 L173.42,343.30 L173.92,342.12 L174.39,341.37 L174.80,341.20 L175.14,341.81 L175.42,343.11 L175.67,344.85 L175.91,346.76 L176.18,348.56 L176.50,350.00 L176.88,351.05 L177.31,351.91 L177.76,352.67 L178.20,353.41 L178.63,354.23 L179.00,355.20 L179.32,356.30 L179.60,357.46 L179.86,358.69 L180.11,360.00 L180.35,361.40 L180.60,362.90 L180.85,364.53 L181.10,366.30 L181.35,368.16 L181.60,370.06 L181.85,371.95 L182.10,373.80 L182.36,375.61 L182.63,377.43 L182.90,379.25 L183.17,381.06 L183.44,382.84 L183.70,384.60 L183.96,386.42 L184.23,388.34 L184.50,390.23 L184.76,392.00 L184.99,393.52 L185.20,394.70 L185.38,395.47 L185.55,395.89 L185.69,396.08 L185.82,396.13 L185.92,396.14 L186.00,396.20 L186.00,396.20 Z" fill="url(#hatchD)" stroke="#5a7a6a" stroke-width="0.7"/>
<path d="M158.50,396.20 L158.50,396.20 L158.66,395.95 L158.87,395.68 L159.12,395.32 L159.41,394.80 L159.70,394.05 L160.00,393.00 L160.30,391.53 L160.63,389.67 L160.97,387.58 L161.31,385.42 L161.66,383.34 L162.00,381.50 L162.33,379.89 L162.67,378.39 L163.01,376.97 L163.34,375.61 L163.67,374.30 L164.00,373.00 L164.34,371.69 L164.69,370.38 L165.03,369.11 L165.36,367.93 L165.65,366.88 L165.90,366.00 L166.08,365.26 L166.19,364.63 L166.27,364.12 L166.34,363.78 L166.45,363.63 L166.60,363.70 L166.82,364.33 L167.07,365.55 L167.35,366.97 L167.64,368.17 L167.93,368.75 L168.20,368.30 L168.46,366.53 L168.73,363.71 L169.00,360.27 L169.26,356.63 L169.49,353.23 L169.70,350.50 L169.87,348.31 L169.99,346.31 L170.10,344.54 L170.21,343.07 L170.33,341.93 L170.50,341.20 L170.71,340.96 L170.96,341.20 L171.22,341.78 L171.49,342.58 L171.75,343.46 L172.00,344.30 L172.23,345.32 L172.44,346.68 L172.65,348.12 L172.86,349.41 L173.07,350.28 L173.30,350.50 L173.54,349.65 L173.80,347.84 L174.06,345.62 L174.32,343.54 L174.57,342.15 L174.80,342.00 L174.99,343.38 L175.15,345.91 L175.29,349.14 L175.45,352.59 L175.65,355.79 L175.90,358.30 L176.24,360.04 L176.64,361.39 L177.07,362.49 L177.52,363.51 L177.94,364.63 L178.30,366.00 L178.59,367.67 L178.84,369.51 L179.06,371.45 L179.27,373.39 L179.51,375.23 L179.80,376.90 L180.15,378.35 L180.53,379.64 L180.94,380.85 L181.36,382.03 L181.75,383.26 L182.10,384.60 L182.42,386.14 L182.71,387.84 L182.99,389.59 L183.25,391.26 L183.49,392.74 L183.70,393.90 L183.89,394.72 L184.06,395.27 L184.20,395.63 L184.32,395.86 L184.42,396.03 L184.50,396.20 L184.50,396.20 Z" fill="#b8281f" stroke="#6a1410" stroke-width="0.5"/>
<text x="141.40" y="347.58" font-size="5.78" fill="#a83a3a" font-weight="bold" textLength="19.60" lengthAdjust="spacingAndGlyphs">84.02%</text>
<text x="162.90" y="347.38" font-size="5.21" fill="#222244" font-weight="bold" textLength="5.80" lengthAdjust="spacingAndGlyphs">vs</text>
<text x="146.00" y="354.72" font-size="5.9" fill="#5a7a6a" font-weight="bold" textLength="20.00" lengthAdjust="spacingAndGlyphs">64.81%</text>
<line x1="151.00" y1="358.40" x2="176.00" y2="358.40" stroke="#222" stroke-width="1.3"/>
<line x1="151.00" y1="355.50" x2="151.00" y2="361.30" stroke="#222" stroke-width="1.3"/>
<line x1="176.00" y1="355.50" x2="176.00" y2="361.30" stroke="#222" stroke-width="1.3"/>
<text x="6.25" y="343.40" font-size="6.8" fill="#000" text-anchor="middle" font-weight="bold" textLength="19.10" lengthAdjust="spacingAndGlyphs" transform="rotate(-90 6.25 343.40)">Count</text>
<text x="103.74" y="343.80" font-size="6.5" fill="#000" text-anchor="middle" font-weight="bold" textLength="18.00" lengthAdjust="spacingAndGlyphs" transform="rotate(-90 103.74 343.80)">Count</text>
<text x="71.50" y="417.57" font-size="6.59" fill="#000" font-weight="bold" textLength="50.80" lengthAdjust="spacingAndGlyphs">Cell Trace Violet</text>
<line x1="4.60" y1="415.00" x2="4.60" y2="384.70" stroke="#000" stroke-width="1.0"/>
<line x1="4.10" y1="415.00" x2="40.70" y2="415.00" stroke="#000" stroke-width="1.0"/>
<path d="M4.60,382.70 L3.10,385.90 L6.10,385.90 Z" fill="#000" stroke="none" stroke-width="1"/>
<path d="M42.70,415.00 L39.50,413.50 L39.50,416.50 Z" fill="#000" stroke="none" stroke-width="1"/>
<text x="207.00" y="12.94" font-size="10.4" fill="#000" font-weight="bold" textLength="7.30" lengthAdjust="spacingAndGlyphs">E</text>
<text x="265.50" y="5.90" font-size="6.95" fill="#000" font-weight="bold" textLength="48.30" lengthAdjust="spacingAndGlyphs">Full responder</text>
<line x1="265.50" y1="7.00" x2="313.80" y2="7.00" stroke="#000" stroke-width="0.8"/>
<text x="428.30" y="5.87" font-size="6.85" fill="#000" font-weight="bold" textLength="56.30" lengthAdjust="spacingAndGlyphs">Partial responder</text>
<line x1="428.30" y1="7.00" x2="484.60" y2="7.00" stroke="#000" stroke-width="0.8"/>
<line x1="229.50" y1="17.50" x2="288.00" y2="17.50" stroke="#a0a0a0" stroke-width="0.7"/>
<line x1="288.00" y1="17.50" x2="288.00" y2="65.50" stroke="#a0a0a0" stroke-width="0.7"/>
<line x1="229.50" y1="17.20" x2="229.50" y2="66.00" stroke="#7a7a7a" stroke-width="1.0"/>
<line x1="229.00" y1="65.50" x2="288.00" y2="65.50" stroke="#7a7a7a" stroke-width="1.0"/>
<line x1="228.40" y1="17.50" x2="229.50" y2="17.50" stroke="#7a7a7a" stroke-width="0.6"/>
<text x="227.80" y="19.00" font-size="3.6" fill="#000" text-anchor="end" font-weight="bold">800</text>
<line x1="228.40" y1="29.50" x2="229.50" y2="29.50" stroke="#7a7a7a" stroke-width="0.6"/>
<text x="227.80" y="31.00" font-size="3.6" fill="#000" text-anchor="end" font-weight="bold">600</text>
<line x1="228.40" y1="41.50" x2="229.50" y2="41.50" stroke="#7a7a7a" stroke-width="0.6"/>
<text x="227.80" y="43.00" font-size="3.6" fill="#000" text-anchor="end" font-weight="bold">400</text>
<line x1="228.40" y1="53.50" x2="229.50" y2="53.50" stroke="#7a7a7a" stroke-width="0.6"/>
<text x="227.80" y="55.00" font-size="3.6" fill="#000" text-anchor="end" font-weight="bold">200</text>
<line x1="228.40" y1="65.50" x2="229.50" y2="65.50" stroke="#7a7a7a" stroke-width="0.6"/>
<text x="227.80" y="67.00" font-size="3.6" fill="#000" text-anchor="end" font-weight="bold">0</text>
<text x="227.90" y="72.87" font-size="3.8" font-weight="bold" fill="#000">10<tspan dy="-1.60" font-size="2.58">1</tspan></text>
<text x="240.90" y="72.87" font-size="3.8" font-weight="bold" fill="#000">10<tspan dy="-1.60" font-size="2.58">2</tspan></text>
<text x="254.30" y="72.87" font-size="3.8" font-weight="bold" fill="#000">10<tspan dy="-1.60" font-size="2.58">3</tspan></text>
<text x="266.90" y="72.87" font-size="3.8" font-weight="bold" fill="#000">10<tspan dy="-1.60" font-size="2.58">4</tspan></text>
<text x="279.20" y="72.87" font-size="3.8" font-weight="bold" fill="#000">10<tspan dy="-1.60" font-size="2.58">5</tspan></text>
<text x="237.00" y="17.12" font-size="5.9" fill="#000" font-weight="bold" textLength="40.50" lengthAdjust="spacingAndGlyphs">Live vMyx-GFP</text>
<text x="263.50" y="24.40" font-size="3.88" fill="#000" font-weight="bold" textLength="11.00" lengthAdjust="spacingAndGlyphs">5.77%</text>
<line x1="264.00" y1="26.80" x2="274.00" y2="26.80" stroke="#333" stroke-width="0.8"/>
<line x1="264.00" y1="24.80" x2="264.00" y2="28.80" stroke="#333" stroke-width="0.8"/>
<line x1="274.00" y1="24.80" x2="274.00" y2="28.80" stroke="#333" stroke-width="0.8"/>
<path d="M271.50,65.50 L271.72,65.37 L272.02,65.25 L272.38,65.08 L272.76,64.77 L273.14,64.27 L273.50,63.50 L273.84,62.44 L274.19,61.16 L274.53,59.67 L274.87,58.01 L275.20,56.21 L275.50,54.30 L275.78,52.15 L276.05,49.73 L276.31,47.16 L276.55,44.59 L276.78,42.15 L277.00,40.00 L277.21,37.95 L277.39,35.84 L277.57,33.88 L277.74,32.24 L277.92,31.12 L278.10,30.70 L278.29,31.12 L278.49,32.24 L278.69,33.88 L278.90,35.84 L279.10,37.95 L279.30,40.00 L279.49,42.15 L279.66,44.59 L279.84,47.16 L280.03,49.73 L280.24,52.15 L280.50,54.30 L280.81,56.21 L281.17,58.01 L281.56,59.67 L281.96,61.16 L282.34,62.44 L282.70,63.50 L283.04,64.27 L283.40,64.77 L283.74,65.08 L284.05,65.25 L284.31,65.37 L284.50,65.50" fill="none" stroke="#6a9a50" stroke-width="0.8"/>
<path d="M275.80,65.50 L275.88,64.75 L276.00,63.76 L276.14,62.56 L276.29,61.19 L276.45,59.66 L276.60,58.00 L276.76,56.16 L276.92,54.09 L277.09,51.88 L277.26,49.57 L277.43,47.26 L277.60,45.00 L277.77,42.47 L277.93,39.54 L278.10,36.59 L278.27,34.02 L278.43,32.19 L278.60,31.50 L278.76,32.19 L278.93,34.02 L279.09,36.59 L279.25,39.54 L279.42,42.47 L279.60,45.00 L279.78,47.27 L279.97,49.61 L280.16,51.94 L280.36,54.17 L280.57,56.22 L280.80,58.00 L281.06,59.52 L281.34,60.85 L281.63,62.00 L281.93,62.98 L282.22,63.81 L282.50,64.50 L282.78,65.00 L283.07,65.28 L283.36,65.41 L283.62,65.44 L283.84,65.45 L284.00,65.50" fill="none" stroke="#111" stroke-width="0.8" stroke-dasharray="0.9 0.7"/>
<line x1="301.90" y1="17.50" x2="360.60" y2="17.50" stroke="#a0a0a0" stroke-width="0.7"/>
<line x1="360.60" y1="17.50" x2="360.60" y2="65.40" stroke="#a0a0a0" stroke-width="0.7"/>
<line x1="301.90" y1="17.20" x2="301.90" y2="65.90" stroke="#7a7a7a" stroke-width="1.0"/>
<line x1="301.40" y1="65.40" x2="360.60" y2="65.40" stroke="#7a7a7a" stroke-width="1.0"/>
<line x1="300.80" y1="17.50" x2="301.90" y2="17.50" stroke="#7a7a7a" stroke-width="0.6"/>
<text x="300.20" y="19.00" font-size="3.6" fill="#000" text-anchor="end" font-weight="bold">800</text>
<line x1="300.80" y1="29.48" x2="301.90" y2="29.48" stroke="#7a7a7a" stroke-width="0.6"/>
<text x="300.20" y="30.97" font-size="3.6" fill="#000" text-anchor="end" font-weight="bold">600</text>
<line x1="300.80" y1="41.45" x2="301.90" y2="41.45" stroke="#7a7a7a" stroke-width="0.6"/>
<text x="300.20" y="42.95" font-size="3.6" fill="#000" text-anchor="end" font-weight="bold">400</text>
<line x1="300.80" y1="53.43" x2="301.90" y2="53.43" stroke="#7a7a7a" stroke-width="0.6"/>
<text x="300.20" y="54.92" font-size="3.6" fill="#000" text-anchor="end" font-weight="bold">200</text>
<line x1="300.80" y1="65.40" x2="301.90" y2="65.40" stroke="#7a7a7a" stroke-width="0.6"/>
<text x="300.20" y="66.90" font-size="3.6" fill="#000" text-anchor="end" font-weight="bold">0</text>
<text x="300.40" y="72.87" font-size="3.8" font-weight="bold" fill="#000">10<tspan dy="-1.60" font-size="2.58">1</tspan></text>
<text x="314.40" y="72.87" font-size="3.8" font-weight="bold" fill="#000">10<tspan dy="-1.60" font-size="2.58">2</tspan></text>
<text x="327.60" y="72.87" font-size="3.8" font-weight="bold" fill="#000">10<tspan dy="-1.60" font-size="2.58">3</tspan></text>
<text x="340.30" y="72.87" font-size="3.8" font-weight="bold" fill="#000">10<tspan dy="-1.60" font-size="2.58">4</tspan></text>
<text x="352.30" y="72.87" font-size="3.8" font-weight="bold" fill="#000">10<tspan dy="-1.60" font-size="2.58">5</tspan></text>
<text x="321.80" y="16.92" font-size="5.9" fill="#000" font-weight="bold" textLength="14.40" lengthAdjust="spacingAndGlyphs">Mock</text>
<text x="332.90" y="25.80" font-size="4.45" fill="#000" font-weight="bold" textLength="15.10" lengthAdjust="spacingAndGlyphs">27.34%</text>
<line x1="332.20" y1="28.80" x2="346.60" y2="28.80" stroke="#333" stroke-width="0.8"/>
<line x1="332.20" y1="26.80" x2="332.20" y2="30.80" stroke="#333" stroke-width="0.8"/>
<line x1="346.60" y1="26.80" x2="346.60" y2="30.80" stroke="#333" stroke-width="0.8"/>
<path d="M340.70,65.40 L340.84,64.86 L341.03,64.16 L341.26,63.30 L341.51,62.31 L341.76,61.21 L342.00,60.00 L342.23,58.56 L342.46,56.83 L342.70,54.99 L342.94,53.19 L343.17,51.61 L343.40,50.40 L343.62,49.72 L343.83,49.46 L344.03,49.41 L344.24,49.36 L344.46,49.10 L344.70,48.40 L344.97,47.20 L345.26,45.64 L345.56,43.87 L345.86,42.01 L346.14,40.21 L346.40,38.60 L346.62,36.98 L346.82,35.21 L347.00,33.50 L347.18,32.04 L347.38,31.04 L347.60,30.70 L347.85,31.48 L348.11,33.30 L348.38,35.57 L348.67,37.73 L348.98,39.16 L349.30,39.30 L349.66,37.59 L350.05,34.41 L350.46,30.51 L350.86,26.66 L351.25,23.63 L351.60,22.20 L351.90,22.49 L352.17,23.91 L352.42,26.16 L352.66,28.91 L352.92,31.86 L353.20,34.70 L353.51,37.68 L353.84,41.11 L354.18,44.74 L354.53,48.32 L354.87,51.59 L355.20,54.30 L355.52,56.44 L355.84,58.21 L356.16,59.67 L356.47,60.89 L356.78,61.95 L357.10,62.90 L357.44,63.70 L357.80,64.28 L358.17,64.69 L358.51,64.98 L358.79,65.20 L359.00,65.40" fill="none" stroke="#b03a3a" stroke-width="0.85"/>
<path d="M349.00,65.40 L349.05,64.38 L349.11,63.06 L349.19,61.45 L349.28,59.56 L349.38,57.41 L349.50,55.00 L349.64,52.14 L349.79,48.77 L349.96,45.13 L350.14,41.47 L350.32,38.01 L350.50,35.00 L350.67,32.20 L350.84,29.36 L351.01,26.74 L351.19,24.56 L351.39,23.07 L351.60,22.50 L351.83,23.02 L352.08,24.46 L352.34,26.59 L352.62,29.17 L352.90,31.95 L353.20,34.70 L353.51,37.67 L353.84,41.09 L354.18,44.73 L354.53,48.31 L354.87,51.58 L355.20,54.30 L355.52,56.44 L355.84,58.21 L356.16,59.67 L356.47,60.89 L356.78,61.95 L357.10,62.90 L357.44,63.70 L357.80,64.28 L358.17,64.69 L358.51,64.98 L358.79,65.20 L359.00,65.40" fill="none" stroke="#111" stroke-width="0.8" stroke-dasharray="0.9 0.7"/>
<line x1="228.90" y1="93.00" x2="287.20" y2="93.00" stroke="#a0a0a0" stroke-width="0.7"/>
<line x1="287.20" y1="93.00" x2="287.20" y2="140.10" stroke="#a0a0a0" stroke-width="0.7"/>
<line x1="228.90" y1="92.70" x2="228.90" y2="140.60" stroke="#7a7a7a" stroke-width="1.0"/>
<line x1="228.40" y1="140.10" x2="287.20" y2="140.10" stroke="#7a7a7a" stroke-width="1.0"/>
<line x1="227.80" y1="93.00" x2="228.90" y2="93.00" stroke="#7a7a7a" stroke-width="0.6"/>
<text x="227.20" y="94.50" font-size="3.6" fill="#000" text-anchor="end" font-weight="bold">800</text>
<line x1="227.80" y1="104.78" x2="228.90" y2="104.78" stroke="#7a7a7a" stroke-width="0.6"/>
<text x="227.20" y="106.27" font-size="3.6" fill="#000" text-anchor="end" font-weight="bold">600</text>
<line x1="227.80" y1="116.55" x2="228.90" y2="116.55" stroke="#7a7a7a" stroke-width="0.6"/>
<text x="227.20" y="118.05" font-size="3.6" fill="#000" text-anchor="end" font-weight="bold">400</text>
<line x1="227.80" y1="128.32" x2="228.90" y2="128.32" stroke="#7a7a7a" stroke-width="0.6"/>
<text x="227.20" y="129.82" font-size="3.6" fill="#000" text-anchor="end" font-weight="bold">200</text>
<line x1="227.80" y1="140.10" x2="228.90" y2="140.10" stroke="#7a7a7a" stroke-width="0.6"/>
<text x="227.20" y="141.60" font-size="3.6" fill="#000" text-anchor="end" font-weight="bold">0</text>
<text x="227.30" y="148.07" font-size="3.8" font-weight="bold" fill="#000">10<tspan dy="-1.60" font-size="2.58">1</tspan></text>
<text x="241.30" y="148.07" font-size="3.8" font-weight="bold" fill="#000">10<tspan dy="-1.60" font-size="2.58">2</tspan></text>
<text x="254.20" y="148.07" font-size="3.8" font-weight="bold" fill="#000">10<tspan dy="-1.60" font-size="2.58">3</tspan></text>
<text x="267.30" y="148.07" font-size="3.8" font-weight="bold" fill="#000">10<tspan dy="-1.60" font-size="2.58">4</tspan></text>
<text x="279.20" y="148.07" font-size="3.8" font-weight="bold" fill="#000">10<tspan dy="-1.60" font-size="2.58">5</tspan></text>
<text x="237.50" y="84.82" font-size="5.9" fill="#000" font-weight="bold" textLength="37.50" lengthAdjust="spacingAndGlyphs">UV-inactivated</text>
<text x="242.50" y="91.22" font-size="5.9" fill="#000" font-weight="bold" textLength="27.50" lengthAdjust="spacingAndGlyphs">vMyx-GFP</text>
<text x="258.80" y="107.33" font-size="4.54" fill="#000" font-weight="bold" textLength="15.40" lengthAdjust="spacingAndGlyphs">23.22%</text>
<line x1="258.80" y1="110.00" x2="274.20" y2="110.00" stroke="#333" stroke-width="0.8"/>
<line x1="258.80" y1="107.40" x2="258.80" y2="112.60" stroke="#333" stroke-width="0.8"/>
<line x1="274.20" y1="107.40" x2="274.20" y2="112.60" stroke="#333" stroke-width="0.8"/>
<path d="M268.40,140.10 L268.62,139.65 L268.94,139.07 L269.31,138.36 L269.70,137.53 L270.08,136.61 L270.40,135.60 L270.67,134.47 L270.91,133.20 L271.14,131.82 L271.36,130.39 L271.58,128.94 L271.80,127.50 L272.02,126.01 L272.25,124.41 L272.47,122.80 L272.69,121.24 L272.90,119.81 L273.10,118.60 L273.29,117.53 L273.46,116.52 L273.63,115.65 L273.80,114.98 L273.98,114.57 L274.20,114.50 L274.44,115.12 L274.70,116.46 L274.97,118.06 L275.26,119.48 L275.57,120.27 L275.90,120.00 L276.26,118.05 L276.65,114.67 L277.06,110.66 L277.48,106.83 L277.90,104.01 L278.30,103.00 L278.69,104.15 L279.08,106.87 L279.47,110.59 L279.85,114.73 L280.23,118.73 L280.60,122.00 L280.96,124.68 L281.31,127.27 L281.65,129.71 L281.99,131.94 L282.34,133.92 L282.70,135.60 L283.10,136.93 L283.54,137.94 L283.98,138.70 L284.40,139.27 L284.75,139.72 L285.00,140.10" fill="none" stroke="#5a3a8a" stroke-width="0.9"/>
<path d="M275.90,140.10 L275.96,138.46 L276.04,136.18 L276.14,133.49 L276.25,130.59 L276.37,127.69 L276.50,125.00 L276.65,122.40 L276.81,119.68 L276.99,116.96 L277.17,114.37 L277.34,112.01 L277.50,110.00 L277.63,108.14 L277.73,106.28 L277.82,104.66 L277.93,103.50 L278.08,103.04 L278.30,103.50 L278.60,105.19 L278.96,108.00 L279.37,111.49 L279.79,115.27 L280.21,118.91 L280.60,122.00 L280.96,124.66 L281.31,127.23 L281.65,129.68 L281.99,131.92 L282.34,133.92 L282.70,135.60 L283.10,136.93 L283.54,137.94 L283.98,138.70 L284.40,139.27 L284.75,139.72 L285.00,140.10" fill="none" stroke="#5a3a8a" stroke-width="0.8" stroke-dasharray="0.9 0.7"/>
<line x1="302.30" y1="93.00" x2="359.30" y2="93.00" stroke="#a0a0a0" stroke-width="0.7"/>
<line x1="359.30" y1="93.00" x2="359.30" y2="140.20" stroke="#a0a0a0" stroke-width="0.7"/>
<line x1="302.30" y1="92.70" x2="302.30" y2="140.70" stroke="#7a7a7a" stroke-width="1.0"/>
<line x1="301.80" y1="140.20" x2="359.30" y2="140.20" stroke="#7a7a7a" stroke-width="1.0"/>
<line x1="301.20" y1="93.00" x2="302.30" y2="93.00" stroke="#7a7a7a" stroke-width="0.6"/>
<text x="300.60" y="94.50" font-size="3.6" fill="#000" text-anchor="end" font-weight="bold">800</text>
<line x1="301.20" y1="104.80" x2="302.30" y2="104.80" stroke="#7a7a7a" stroke-width="0.6"/>
<text x="300.60" y="106.30" font-size="3.6" fill="#000" text-anchor="end" font-weight="bold">600</text>
<line x1="301.20" y1="116.60" x2="302.30" y2="116.60" stroke="#7a7a7a" stroke-width="0.6"/>
<text x="300.60" y="118.10" font-size="3.6" fill="#000" text-anchor="end" font-weight="bold">400</text>
<line x1="301.20" y1="128.40" x2="302.30" y2="128.40" stroke="#7a7a7a" stroke-width="0.6"/>
<text x="300.60" y="129.90" font-size="3.6" fill="#000" text-anchor="end" font-weight="bold">200</text>
<line x1="301.20" y1="140.20" x2="302.30" y2="140.20" stroke="#7a7a7a" stroke-width="0.6"/>
<text x="300.60" y="141.70" font-size="3.6" fill="#000" text-anchor="end" font-weight="bold">0</text>
<text x="300.40" y="148.07" font-size="3.8" font-weight="bold" fill="#000">10<tspan dy="-1.60" font-size="2.58">1</tspan></text>
<text x="314.40" y="148.07" font-size="3.8" font-weight="bold" fill="#000">10<tspan dy="-1.60" font-size="2.58">2</tspan></text>
<text x="327.60" y="148.07" font-size="3.8" font-weight="bold" fill="#000">10<tspan dy="-1.60" font-size="2.58">3</tspan></text>
<text x="340.30" y="148.07" font-size="3.8" font-weight="bold" fill="#000">10<tspan dy="-1.60" font-size="2.58">4</tspan></text>
<text x="352.30" y="148.07" font-size="3.8" font-weight="bold" fill="#000">10<tspan dy="-1.60" font-size="2.58">5</tspan></text>
<text x="309.50" y="84.62" font-size="5.9" fill="#000" font-weight="bold" textLength="41.00" lengthAdjust="spacingAndGlyphs">Heat-inactivated</text>
<text x="316.00" y="90.62" font-size="5.9" fill="#000" font-weight="bold" textLength="27.50" lengthAdjust="spacingAndGlyphs">vMyx-GFP</text>
<text x="332.80" y="99.51" font-size="4.48" fill="#000" font-weight="bold" textLength="15.20" lengthAdjust="spacingAndGlyphs">33.01%</text>
<line x1="332.80" y1="101.80" x2="348.00" y2="101.80" stroke="#333" stroke-width="0.8"/>
<line x1="332.80" y1="99.80" x2="332.80" y2="103.80" stroke="#333" stroke-width="0.8"/>
<line x1="348.00" y1="99.80" x2="348.00" y2="103.80" stroke="#333" stroke-width="0.8"/>
<path d="M340.40,140.40 L340.58,139.52 L340.83,138.32 L341.12,136.89 L341.43,135.30 L341.73,133.65 L342.00,132.00 L342.23,130.24 L342.46,128.27 L342.67,126.22 L342.88,124.24 L343.09,122.46 L343.30,121.00 L343.50,120.04 L343.69,119.49 L343.88,119.14 L344.08,118.76 L344.31,118.12 L344.60,117.00 L344.95,115.04 L345.37,112.34 L345.81,109.39 L346.27,106.65 L346.70,104.59 L347.10,103.70 L347.44,104.45 L347.74,106.57 L348.03,109.38 L348.31,112.19 L348.63,114.33 L349.00,115.10 L349.43,114.00 L349.91,111.47 L350.43,108.26 L350.94,105.12 L351.44,102.82 L351.90,102.10 L352.32,103.18 L352.73,105.51 L353.11,108.66 L353.49,112.24 L353.85,115.82 L354.20,119.00 L354.55,122.00 L354.88,125.19 L355.21,128.39 L355.52,131.42 L355.82,134.08 L356.10,136.20 L356.38,137.70 L356.66,138.72 L356.92,139.37 L357.16,139.79 L357.35,140.09 L357.50,140.40" fill="none" stroke="#777" stroke-width="0.9"/>
<path d="M349.00,140.40 L349.06,138.72 L349.13,136.39 L349.22,133.64 L349.33,130.67 L349.46,127.72 L349.60,125.00 L349.77,122.39 L349.96,119.69 L350.17,117.01 L350.39,114.43 L350.60,112.06 L350.80,110.00 L350.98,108.04 L351.13,106.06 L351.28,104.28 L351.45,102.94 L351.65,102.27 L351.90,102.50 L352.22,103.85 L352.59,106.20 L353.00,109.21 L353.42,112.56 L353.83,115.93 L354.20,119.00 L354.55,121.98 L354.88,125.16 L355.21,128.37 L355.52,131.40 L355.82,134.08 L356.10,136.20 L356.38,137.70 L356.66,138.72 L356.92,139.37 L357.16,139.79 L357.35,140.09 L357.50,140.40" fill="none" stroke="#888" stroke-width="0.8" stroke-dasharray="0.9 0.7"/>
<text x="215.70" y="80.20" font-size="6.4" fill="#000" text-anchor="middle" font-weight="bold" textLength="19.00" lengthAdjust="spacingAndGlyphs" transform="rotate(-90 215.70 80.20)">Count</text>
<line x1="215.00" y1="153.80" x2="215.00" y2="130.00" stroke="#000" stroke-width="1.0"/>
<line x1="214.50" y1="153.80" x2="237.40" y2="153.80" stroke="#000" stroke-width="1.0"/>
<path d="M215.00,128.00 L213.50,131.20 L216.50,131.20 Z" fill="#000" stroke="none" stroke-width="1"/>
<path d="M239.40,153.80 L236.20,152.30 L236.20,155.30 Z" fill="#000" stroke="none" stroke-width="1"/>
<text x="266.90" y="156.56" font-size="6.84" fill="#000" font-weight="bold" textLength="52.70" lengthAdjust="spacingAndGlyphs">Cell Trace Violet</text>
<line x1="391.20" y1="17.50" x2="447.20" y2="17.50" stroke="#a0a0a0" stroke-width="0.7"/>
<line x1="447.20" y1="17.50" x2="447.20" y2="64.60" stroke="#a0a0a0" stroke-width="0.7"/>
<line x1="391.20" y1="17.20" x2="391.20" y2="65.10" stroke="#7a7a7a" stroke-width="1.0"/>
<line x1="390.70" y1="64.60" x2="447.20" y2="64.60" stroke="#7a7a7a" stroke-width="1.0"/>
<line x1="390.10" y1="17.50" x2="391.20" y2="17.50" stroke="#7a7a7a" stroke-width="0.6"/>
<text x="389.50" y="19.00" font-size="3.6" fill="#000" text-anchor="end" font-weight="bold">900</text>
<line x1="390.10" y1="29.27" x2="391.20" y2="29.27" stroke="#7a7a7a" stroke-width="0.6"/>
<text x="389.50" y="30.77" font-size="3.6" fill="#000" text-anchor="end" font-weight="bold">675</text>
<line x1="390.10" y1="41.05" x2="391.20" y2="41.05" stroke="#7a7a7a" stroke-width="0.6"/>
<text x="389.50" y="42.55" font-size="3.6" fill="#000" text-anchor="end" font-weight="bold">450</text>
<line x1="390.10" y1="52.82" x2="391.20" y2="52.82" stroke="#7a7a7a" stroke-width="0.6"/>
<text x="389.50" y="54.32" font-size="3.6" fill="#000" text-anchor="end" font-weight="bold">225</text>
<line x1="390.10" y1="64.60" x2="391.20" y2="64.60" stroke="#7a7a7a" stroke-width="0.6"/>
<text x="389.50" y="66.10" font-size="3.6" fill="#000" text-anchor="end" font-weight="bold">0</text>
<text x="388.90" y="72.37" font-size="3.8" font-weight="bold" fill="#000">-10<tspan dy="-1.60" font-size="2.58">2</tspan></text>
<text x="400.00" y="72.37" font-size="3.8" font-weight="bold" fill="#000">10<tspan dy="-1.60" font-size="2.58">2</tspan></text>
<text x="415.00" y="72.37" font-size="3.8" font-weight="bold" fill="#000">10<tspan dy="-1.60" font-size="2.58">3</tspan></text>
<text x="428.40" y="72.37" font-size="3.8" font-weight="bold" fill="#000">10<tspan dy="-1.60" font-size="2.58">4</tspan></text>
<text x="440.90" y="72.37" font-size="3.8" font-weight="bold" fill="#000">10<tspan dy="-1.60" font-size="2.58">5</tspan></text>
<text x="400.90" y="16.32" font-size="5.9" fill="#000" font-weight="bold" textLength="38.40" lengthAdjust="spacingAndGlyphs">Live vMyx-GFP</text>
<text x="417.60" y="26.59" font-size="4.42" fill="#000" font-weight="bold" textLength="15.00" lengthAdjust="spacingAndGlyphs">34.60%</text>
<line x1="417.10" y1="28.70" x2="432.60" y2="28.70" stroke="#333" stroke-width="0.8"/>
<line x1="417.10" y1="26.70" x2="417.10" y2="30.70" stroke="#333" stroke-width="0.8"/>
<line x1="432.60" y1="26.70" x2="432.60" y2="30.70" stroke="#333" stroke-width="0.8"/>
<path d="M417.60,64.60 L417.85,64.53 L418.19,64.44 L418.59,64.34 L419.04,64.22 L419.51,64.11 L420.00,64.00 L420.51,63.93 L421.06,63.90 L421.64,63.87 L422.23,63.80 L422.82,63.66 L423.40,63.40 L423.97,63.00 L424.56,62.49 L425.14,61.91 L425.72,61.29 L426.27,60.67 L426.80,60.10 L427.30,59.69 L427.77,59.44 L428.22,59.19 L428.66,58.80 L429.08,58.12 L429.50,57.00 L429.92,55.32 L430.33,53.17 L430.74,50.74 L431.12,48.18 L431.48,45.68 L431.80,43.40 L432.08,41.07 L432.31,38.49 L432.52,35.97 L432.71,33.80 L432.90,32.27 L433.10,31.70 L433.31,32.32 L433.51,33.96 L433.71,36.24 L433.90,38.82 L434.10,41.32 L434.30,43.40 L434.49,45.12 L434.67,46.78 L434.84,48.37 L435.03,49.88 L435.25,51.29 L435.50,52.60 L435.78,53.79 L436.09,54.87 L436.41,55.86 L436.77,56.77 L437.16,57.61 L437.60,58.40 L438.10,59.11 L438.67,59.73 L439.28,60.29 L439.89,60.80 L440.47,61.30 L441.00,61.80 L441.50,62.33 L441.99,62.88 L442.46,63.41 L442.89,63.90 L443.24,64.30 L443.50,64.60" fill="none" stroke="#4f8a3a" stroke-width="0.9"/>
<path d="M435.10,64.60 L435.25,62.40 L435.46,59.31 L435.70,55.68 L435.97,51.85 L436.24,48.18 L436.50,45.00 L436.76,42.01 L437.03,38.85 L437.30,35.84 L437.57,33.31 L437.84,31.55 L438.10,30.90 L438.34,31.61 L438.58,33.48 L438.81,36.13 L439.03,39.19 L439.26,42.27 L439.50,45.00 L439.74,47.57 L439.97,50.32 L440.21,53.09 L440.46,55.74 L440.72,58.09 L441.00,60.00 L441.33,61.42 L441.70,62.47 L442.09,63.24 L442.46,63.79 L442.78,64.22 L443.00,64.60" fill="none" stroke="#3a3a9a" stroke-width="0.8" stroke-dasharray="0.9 0.7"/>
<line x1="461.20" y1="17.50" x2="517.20" y2="17.50" stroke="#a0a0a0" stroke-width="0.7"/>
<line x1="517.20" y1="17.50" x2="517.20" y2="64.60" stroke="#a0a0a0" stroke-width="0.7"/>
<line x1="461.20" y1="17.20" x2="461.20" y2="65.10" stroke="#7a7a7a" stroke-width="1.0"/>
<line x1="460.70" y1="64.60" x2="517.20" y2="64.60" stroke="#7a7a7a" stroke-width="1.0"/>
<line x1="460.10" y1="17.50" x2="461.20" y2="17.50" stroke="#7a7a7a" stroke-width="0.6"/>
<text x="459.50" y="19.00" font-size="3.6" fill="#000" text-anchor="end" font-weight="bold">900</text>
<line x1="460.10" y1="29.27" x2="461.20" y2="29.27" stroke="#7a7a7a" stroke-width="0.6"/>
<text x="459.50" y="30.77" font-size="3.6" fill="#000" text-anchor="end" font-weight="bold">675</text>
<line x1="460.10" y1="41.05" x2="461.20" y2="41.05" stroke="#7a7a7a" stroke-width="0.6"/>
<text x="459.50" y="42.55" font-size="3.6" fill="#000" text-anchor="end" font-weight="bold">450</text>
<line x1="460.10" y1="52.82" x2="461.20" y2="52.82" stroke="#7a7a7a" stroke-width="0.6"/>
<text x="459.50" y="54.32" font-size="3.6" fill="#000" text-anchor="end" font-weight="bold">225</text>
<line x1="460.10" y1="64.60" x2="461.20" y2="64.60" stroke="#7a7a7a" stroke-width="0.6"/>
<text x="459.50" y="66.10" font-size="3.6" fill="#000" text-anchor="end" font-weight="bold">0</text>
<text x="458.90" y="72.37" font-size="3.8" font-weight="bold" fill="#000">-10<tspan dy="-1.60" font-size="2.58">2</tspan></text>
<text x="470.00" y="72.37" font-size="3.8" font-weight="bold" fill="#000">10<tspan dy="-1.60" font-size="2.58">2</tspan></text>
<text x="485.00" y="72.37" font-size="3.8" font-weight="bold" fill="#000">10<tspan dy="-1.60" font-size="2.58">3</tspan></text>
<text x="498.40" y="72.37" font-size="3.8" font-weight="bold" fill="#000">10<tspan dy="-1.60" font-size="2.58">4</tspan></text>
<text x="510.90" y="72.37" font-size="3.8" font-weight="bold" fill="#000">10<tspan dy="-1.60" font-size="2.58">5</tspan></text>
<text x="481.50" y="16.32" font-size="5.9" fill="#000" font-weight="bold" textLength="14.50" lengthAdjust="spacingAndGlyphs">Mock</text>
<text x="488.00" y="26.59" font-size="4.42" fill="#000" font-weight="bold" textLength="15.00" lengthAdjust="spacingAndGlyphs">59.30%</text>
<line x1="487.60" y1="27.80" x2="503.50" y2="27.80" stroke="#333" stroke-width="0.8"/>
<line x1="487.60" y1="25.80" x2="487.60" y2="29.80" stroke="#333" stroke-width="0.8"/>
<line x1="503.50" y1="25.80" x2="503.50" y2="29.80" stroke="#333" stroke-width="0.8"/>
<path d="M492.60,64.60 L492.80,64.44 L493.08,64.23 L493.41,63.98 L493.77,63.69 L494.14,63.36 L494.50,63.00 L494.87,62.75 L495.26,62.64 L495.67,62.49 L496.07,62.14 L496.45,61.40 L496.80,60.10 L497.11,58.08 L497.38,55.43 L497.64,52.41 L497.89,49.23 L498.14,46.15 L498.40,43.40 L498.68,40.67 L498.97,37.70 L499.26,34.82 L499.55,32.36 L499.83,30.64 L500.10,30.00 L500.35,30.77 L500.58,32.77 L500.81,35.51 L501.03,38.52 L501.26,41.31 L501.50,43.40 L501.75,44.74 L502.00,45.70 L502.26,46.45 L502.53,47.14 L502.81,47.94 L503.10,49.00 L503.38,50.41 L503.66,52.04 L503.94,53.79 L504.26,55.51 L504.63,57.09 L505.10,58.40 L505.69,59.43 L506.39,60.27 L507.16,60.96 L507.93,61.56 L508.66,62.09 L509.30,62.60 L509.87,63.08 L510.41,63.50 L510.91,63.86 L511.36,64.16 L511.72,64.41 L512.00,64.60" fill="none" stroke="#a03030" stroke-width="0.9"/>
<path d="M505.10,64.60 L505.25,62.41 L505.46,59.35 L505.70,55.74 L505.97,51.92 L506.24,48.23 L506.50,45.00 L506.75,41.89 L507.01,38.55 L507.28,35.34 L507.55,32.61 L507.83,30.71 L508.10,30.00 L508.38,30.71 L508.66,32.61 L508.94,35.34 L509.23,38.55 L509.52,41.89 L509.80,45.00 L510.10,48.23 L510.43,51.92 L510.76,55.74 L511.06,59.35 L511.32,62.41 L511.50,64.60" fill="none" stroke="#5a1a1a" stroke-width="0.8" stroke-dasharray="0.9 0.7"/>
<line x1="391.00" y1="92.30" x2="444.80" y2="92.30" stroke="#a0a0a0" stroke-width="0.7"/>
<line x1="444.80" y1="92.30" x2="444.80" y2="139.50" stroke="#a0a0a0" stroke-width="0.7"/>
<line x1="391.00" y1="92.00" x2="391.00" y2="140.00" stroke="#7a7a7a" stroke-width="1.0"/>
<line x1="390.50" y1="139.50" x2="444.80" y2="139.50" stroke="#7a7a7a" stroke-width="1.0"/>
<line x1="389.90" y1="92.30" x2="391.00" y2="92.30" stroke="#7a7a7a" stroke-width="0.6"/>
<text x="389.30" y="93.80" font-size="3.6" fill="#000" text-anchor="end" font-weight="bold">900</text>
<line x1="389.90" y1="104.10" x2="391.00" y2="104.10" stroke="#7a7a7a" stroke-width="0.6"/>
<text x="389.30" y="105.60" font-size="3.6" fill="#000" text-anchor="end" font-weight="bold">675</text>
<line x1="389.90" y1="115.90" x2="391.00" y2="115.90" stroke="#7a7a7a" stroke-width="0.6"/>
<text x="389.30" y="117.40" font-size="3.6" fill="#000" text-anchor="end" font-weight="bold">450</text>
<line x1="389.90" y1="127.70" x2="391.00" y2="127.70" stroke="#7a7a7a" stroke-width="0.6"/>
<text x="389.30" y="129.20" font-size="3.6" fill="#000" text-anchor="end" font-weight="bold">225</text>
<line x1="389.90" y1="139.50" x2="391.00" y2="139.50" stroke="#7a7a7a" stroke-width="0.6"/>
<text x="389.30" y="141.00" font-size="3.6" fill="#000" text-anchor="end" font-weight="bold">0</text>
<text x="388.40" y="146.37" font-size="3.8" font-weight="bold" fill="#000">-10<tspan dy="-1.60" font-size="2.58">2</tspan></text>
<text x="399.50" y="146.37" font-size="3.8" font-weight="bold" fill="#000">10<tspan dy="-1.60" font-size="2.58">2</tspan></text>
<text x="414.50" y="146.37" font-size="3.8" font-weight="bold" fill="#000">10<tspan dy="-1.60" font-size="2.58">3</tspan></text>
<text x="427.90" y="146.37" font-size="3.8" font-weight="bold" fill="#000">10<tspan dy="-1.60" font-size="2.58">4</tspan></text>
<text x="440.40" y="146.37" font-size="3.8" font-weight="bold" fill="#000">10<tspan dy="-1.60" font-size="2.58">5</tspan></text>
<text x="399.00" y="84.82" font-size="5.9" fill="#000" font-weight="bold" textLength="39.00" lengthAdjust="spacingAndGlyphs">UV-inactivated</text>
<text x="403.50" y="91.22" font-size="5.9" fill="#000" font-weight="bold" textLength="29.00" lengthAdjust="spacingAndGlyphs">vMyx-GFP</text>
<text x="417.90" y="102.89" font-size="4.69" fill="#000" font-weight="bold" textLength="15.90" lengthAdjust="spacingAndGlyphs">34.07%</text>
<line x1="417.90" y1="104.00" x2="433.80" y2="104.00" stroke="#333" stroke-width="0.8"/>
<line x1="417.90" y1="101.80" x2="417.90" y2="106.20" stroke="#333" stroke-width="0.8"/>
<line x1="433.80" y1="101.80" x2="433.80" y2="106.20" stroke="#333" stroke-width="0.8"/>
<path d="M427.40,139.50 L427.60,138.76 L427.88,137.72 L428.21,136.50 L428.56,135.21 L428.90,133.97 L429.20,132.90 L429.46,132.09 L429.70,131.47 L429.93,130.89 L430.16,130.23 L430.38,129.35 L430.60,128.10 L430.82,126.37 L431.04,124.25 L431.25,121.90 L431.46,119.50 L431.68,117.21 L431.90,115.20 L432.13,113.32 L432.35,111.41 L432.58,109.61 L432.81,108.08 L433.05,106.96 L433.30,106.40 L433.55,106.69 L433.80,107.76 L434.06,109.24 L434.32,110.77 L434.60,111.98 L434.90,112.50 L435.22,112.00 L435.57,110.71 L435.92,109.11 L436.29,107.64 L436.65,106.78 L437.00,107.00 L437.34,108.52 L437.67,111.02 L438.00,114.13 L438.33,117.48 L438.66,120.69 L439.00,123.40 L439.34,125.69 L439.68,127.89 L440.02,129.94 L440.37,131.84 L440.73,133.53 L441.10,135.00 L441.51,136.21 L441.97,137.19 L442.43,137.97 L442.87,138.60 L443.24,139.09 L443.50,139.50" fill="none" stroke="#5a3a8a" stroke-width="0.9"/>
<path d="M434.30,139.50 L434.37,137.91 L434.47,135.69 L434.59,133.06 L434.72,130.26 L434.86,127.50 L435.00,125.00 L435.15,122.65 L435.31,120.24 L435.48,117.88 L435.66,115.65 L435.83,113.66 L436.00,112.00 L436.16,110.52 L436.30,109.11 L436.44,107.94 L436.59,107.17 L436.78,106.97 L437.00,107.50 L437.27,109.02 L437.59,111.45 L437.93,114.44 L438.29,117.66 L438.65,120.76 L439.00,123.40 L439.34,125.66 L439.68,127.85 L440.02,129.91 L440.37,131.82 L440.73,133.53 L441.10,135.00 L441.51,136.21 L441.97,137.19 L442.43,137.97 L442.87,138.60 L443.24,139.09 L443.50,139.50" fill="none" stroke="#5a3a8a" stroke-width="0.8" stroke-dasharray="0.9 0.7"/>
<line x1="461.40" y1="92.20" x2="518.00" y2="92.20" stroke="#a0a0a0" stroke-width="0.7"/>
<line x1="518.00" y1="92.20" x2="518.00" y2="139.30" stroke="#a0a0a0" stroke-width="0.7"/>
<line x1="461.40" y1="91.90" x2="461.40" y2="139.80" stroke="#7a7a7a" stroke-width="1.0"/>
<line x1="460.90" y1="139.30" x2="518.00" y2="139.30" stroke="#7a7a7a" stroke-width="1.0"/>
<line x1="460.30" y1="92.20" x2="461.40" y2="92.20" stroke="#7a7a7a" stroke-width="0.6"/>
<text x="459.70" y="93.70" font-size="3.6" fill="#000" text-anchor="end" font-weight="bold">900</text>
<line x1="460.30" y1="103.98" x2="461.40" y2="103.98" stroke="#7a7a7a" stroke-width="0.6"/>
<text x="459.70" y="105.47" font-size="3.6" fill="#000" text-anchor="end" font-weight="bold">675</text>
<line x1="460.30" y1="115.75" x2="461.40" y2="115.75" stroke="#7a7a7a" stroke-width="0.6"/>
<text x="459.70" y="117.25" font-size="3.6" fill="#000" text-anchor="end" font-weight="bold">450</text>
<line x1="460.30" y1="127.53" x2="461.40" y2="127.53" stroke="#7a7a7a" stroke-width="0.6"/>
<text x="459.70" y="129.02" font-size="3.6" fill="#000" text-anchor="end" font-weight="bold">225</text>
<line x1="460.30" y1="139.30" x2="461.40" y2="139.30" stroke="#7a7a7a" stroke-width="0.6"/>
<text x="459.70" y="140.80" font-size="3.6" fill="#000" text-anchor="end" font-weight="bold">0</text>
<text x="458.40" y="146.37" font-size="3.8" font-weight="bold" fill="#000">-10<tspan dy="-1.60" font-size="2.58">2</tspan></text>
<text x="469.50" y="146.37" font-size="3.8" font-weight="bold" fill="#000">10<tspan dy="-1.60" font-size="2.58">2</tspan></text>
<text x="484.50" y="146.37" font-size="3.8" font-weight="bold" fill="#000">10<tspan dy="-1.60" font-size="2.58">3</tspan></text>
<text x="497.90" y="146.37" font-size="3.8" font-weight="bold" fill="#000">10<tspan dy="-1.60" font-size="2.58">4</tspan></text>
<text x="510.40" y="146.37" font-size="3.8" font-weight="bold" fill="#000">10<tspan dy="-1.60" font-size="2.58">5</tspan></text>
<text x="468.00" y="84.72" font-size="5.9" fill="#000" font-weight="bold" textLength="41.50" lengthAdjust="spacingAndGlyphs">Heat-inactivated</text>
<text x="474.50" y="90.52" font-size="5.9" fill="#000" font-weight="bold" textLength="27.50" lengthAdjust="spacingAndGlyphs">vMyx-GFP</text>
<text x="488.70" y="98.01" font-size="4.48" fill="#000" font-weight="bold" textLength="15.20" lengthAdjust="spacingAndGlyphs">55.39%</text>
<line x1="487.60" y1="99.80" x2="504.00" y2="99.80" stroke="#333" stroke-width="0.8"/>
<line x1="487.60" y1="97.80" x2="487.60" y2="101.80" stroke="#333" stroke-width="0.8"/>
<line x1="504.00" y1="97.80" x2="504.00" y2="101.80" stroke="#333" stroke-width="0.8"/>
<path d="M496.30,139.30 L496.49,138.42 L496.76,137.22 L497.08,135.79 L497.41,134.21 L497.73,132.59 L498.00,131.00 L498.22,129.32 L498.41,127.47 L498.59,125.56 L498.77,123.72 L498.97,122.09 L499.20,120.80 L499.47,119.93 L499.77,119.40 L500.08,119.07 L500.40,118.82 L500.71,118.51 L501.00,118.00 L501.26,117.32 L501.50,116.59 L501.74,115.79 L501.97,114.93 L502.22,114.00 L502.50,113.00 L502.80,111.60 L503.12,109.73 L503.45,107.80 L503.79,106.19 L504.14,105.29 L504.50,105.50 L504.85,107.16 L505.19,110.02 L505.54,113.59 L505.91,117.39 L506.33,120.92 L506.80,123.70 L507.36,125.71 L508.01,127.34 L508.69,128.70 L509.38,129.91 L510.03,131.07 L510.60,132.30 L511.11,133.64 L511.59,135.01 L512.04,136.34 L512.43,137.54 L512.76,138.56 L513.00,139.30" fill="none" stroke="#777" stroke-width="0.9"/>
<path d="M505.80,139.30 L505.93,137.14 L506.11,134.12 L506.32,130.56 L506.55,126.79 L506.78,123.16 L507.00,120.00 L507.21,116.97 L507.42,113.74 L507.63,110.64 L507.85,108.01 L508.07,106.18 L508.30,105.50 L508.53,106.18 L508.77,108.01 L509.02,110.64 L509.27,113.74 L509.53,116.97 L509.80,120.00 L510.10,123.16 L510.44,126.79 L510.79,130.56 L511.12,134.12 L511.40,137.14 L511.60,139.30" fill="none" stroke="#888" stroke-width="0.8" stroke-dasharray="0.9 0.7"/>
<text x="383.40" y="79.70" font-size="6.4" fill="#000" text-anchor="middle" font-weight="bold" textLength="20.00" lengthAdjust="spacingAndGlyphs" transform="rotate(-90 383.40 79.70)">Count</text>
<line x1="381.80" y1="150.00" x2="381.80" y2="127.80" stroke="#000" stroke-width="1.0"/>
<line x1="381.30" y1="150.00" x2="406.00" y2="150.00" stroke="#000" stroke-width="1.0"/>
<path d="M381.80,125.80 L380.30,129.00 L383.30,129.00 Z" fill="#000" stroke="none" stroke-width="1"/>
<path d="M408.00,150.00 L404.80,148.50 L404.80,151.50 Z" fill="#000" stroke="none" stroke-width="1"/>
<text x="421.40" y="153.41" font-size="6.7" fill="#000" font-weight="bold" textLength="51.60" lengthAdjust="spacingAndGlyphs">Cell Trace Violet</text>
<text x="207.20" y="180.05" font-size="11.8" fill="#000" font-weight="bold" textLength="6.20" lengthAdjust="spacingAndGlyphs">F</text>
<text x="255.00" y="175.23" font-size="6.2" font-weight="bold" textLength="57.80" lengthAdjust="spacingAndGlyphs"><tspan>CD4</tspan><tspan dy="-2.60" font-size="3.84">+</tspan><tspan dy="2.60">CD25</tspan><tspan dy="-2.60" font-size="3.84">+</tspan><tspan dy="2.60">FoxP3</tspan><tspan dy="-2.60" font-size="3.84">+</tspan></text>
<line x1="255.00" y1="176.40" x2="312.80" y2="176.40" stroke="#000" stroke-width="0.7"/>
<text x="400.70" y="175.63" font-size="6.2" font-weight="bold" textLength="59.80" lengthAdjust="spacingAndGlyphs"><tspan>CD4</tspan><tspan dy="-2.60" font-size="3.84">+</tspan><tspan dy="2.60">CD25</tspan><tspan dy="-2.60" font-size="3.84">+</tspan><tspan dy="2.60">Helios</tspan><tspan dy="-2.60" font-size="3.84">+</tspan></text>
<line x1="400.70" y1="176.60" x2="460.50" y2="176.60" stroke="#000" stroke-width="0.7"/>
<text x="502.20" y="181.80" font-size="10.0" fill="#000" font-weight="bold" textLength="2.40" lengthAdjust="spacingAndGlyphs">i</text>
<line x1="219.80" y1="188.00" x2="280.30" y2="188.00" stroke="#a0a0a0" stroke-width="0.7"/>
<line x1="280.30" y1="188.00" x2="280.30" y2="236.00" stroke="#a0a0a0" stroke-width="0.7"/>
<line x1="219.80" y1="187.70" x2="219.80" y2="236.50" stroke="#7a7a7a" stroke-width="1.0"/>
<line x1="219.30" y1="236.00" x2="280.30" y2="236.00" stroke="#7a7a7a" stroke-width="1.0"/>
<line x1="218.70" y1="188.00" x2="219.80" y2="188.00" stroke="#7a7a7a" stroke-width="0.6"/>
<text x="218.10" y="189.64" font-size="4.0" fill="#000" text-anchor="end" font-weight="bold">50</text>
<line x1="218.70" y1="200.00" x2="219.80" y2="200.00" stroke="#7a7a7a" stroke-width="0.6"/>
<text x="218.10" y="201.64" font-size="4.0" fill="#000" text-anchor="end" font-weight="bold">38</text>
<line x1="218.70" y1="212.00" x2="219.80" y2="212.00" stroke="#7a7a7a" stroke-width="0.6"/>
<text x="218.10" y="213.64" font-size="4.0" fill="#000" text-anchor="end" font-weight="bold">25</text>
<line x1="218.70" y1="224.00" x2="219.80" y2="224.00" stroke="#7a7a7a" stroke-width="0.6"/>
<text x="218.10" y="225.64" font-size="4.0" fill="#000" text-anchor="end" font-weight="bold">13</text>
<line x1="218.70" y1="236.00" x2="219.80" y2="236.00" stroke="#7a7a7a" stroke-width="0.6"/>
<text x="218.10" y="237.64" font-size="4.0" fill="#000" text-anchor="end" font-weight="bold">0</text>
<text x="217.40" y="243.24" font-size="4.0" font-weight="bold" fill="#000">-10<tspan dy="-1.68" font-size="2.72">2</tspan></text>
<text x="228.20" y="243.24" font-size="4.0" font-weight="bold" fill="#000">10<tspan dy="-1.68" font-size="2.72">2</tspan></text>
<text x="242.90" y="243.24" font-size="4.0" font-weight="bold" fill="#000">10<tspan dy="-1.68" font-size="2.72">3</tspan></text>
<text x="256.90" y="243.24" font-size="4.0" font-weight="bold" fill="#000">10<tspan dy="-1.68" font-size="2.72">4</tspan></text>
<text x="269.20" y="243.24" font-size="4.0" font-weight="bold" fill="#000">10<tspan dy="-1.68" font-size="2.72">5</tspan></text>
<text x="242.00" y="186.84" font-size="6.49" fill="#000" font-weight="bold" textLength="16.60" lengthAdjust="spacingAndGlyphs">Mock</text>
<text x="239.60" y="204.35" font-size="4.59" fill="#000" font-weight="bold" textLength="13.00" lengthAdjust="spacingAndGlyphs">0.07%</text>
<line x1="232.30" y1="206.70" x2="261.40" y2="206.70" stroke="#555" stroke-width="0.9"/>
<line x1="232.30" y1="204.50" x2="232.30" y2="208.90" stroke="#555" stroke-width="0.9"/>
<line x1="261.40" y1="204.50" x2="261.40" y2="208.90" stroke="#555" stroke-width="0.9"/>
<path d="M259.80,235.90 L259.91,235.72 L260.07,235.53 L260.25,235.27 L260.46,234.91 L260.67,234.40 L260.90,233.70 L261.14,232.78 L261.40,231.67 L261.67,230.42 L261.95,229.06 L262.23,227.64 L262.50,226.20 L262.77,224.71 L263.03,223.13 L263.29,221.49 L263.56,219.81 L263.83,218.14 L264.10,216.50 L264.37,214.82 L264.64,213.07 L264.92,211.32 L265.20,209.65 L265.49,208.12 L265.80,206.80 L266.13,205.66 L266.47,204.62 L266.82,203.73 L267.19,203.01 L267.55,202.53 L267.90,202.30 L268.25,202.34 L268.60,202.61 L268.94,203.10 L269.29,203.80 L269.64,204.71 L270.00,205.80 L270.36,207.17 L270.73,208.83 L271.09,210.69 L271.46,212.66 L271.83,214.63 L272.20,216.50 L272.57,218.37 L272.96,220.33 L273.34,222.30 L273.71,224.18 L274.07,225.88 L274.40,227.30 L274.69,228.42 L274.94,229.31 L275.17,230.03 L275.41,230.61 L275.68,231.11 L276.00,231.60 L276.39,232.02 L276.84,232.31 L277.32,232.54 L277.80,232.73 L278.27,232.94 L278.70,233.20 L279.11,233.55 L279.52,233.94 L279.92,234.35 L280.28,234.74 L280.58,235.07 L280.80,235.30" fill="none" stroke="#111" stroke-width="1.0"/>
<line x1="289.00" y1="187.30" x2="350.50" y2="187.30" stroke="#a0a0a0" stroke-width="0.7"/>
<line x1="350.50" y1="187.30" x2="350.50" y2="235.30" stroke="#a0a0a0" stroke-width="0.7"/>
<line x1="289.00" y1="187.00" x2="289.00" y2="235.80" stroke="#7a7a7a" stroke-width="1.0"/>
<line x1="288.50" y1="235.30" x2="350.50" y2="235.30" stroke="#7a7a7a" stroke-width="1.0"/>
<line x1="287.90" y1="187.30" x2="289.00" y2="187.30" stroke="#7a7a7a" stroke-width="0.6"/>
<text x="287.30" y="188.94" font-size="4.0" fill="#000" text-anchor="end" font-weight="bold">50</text>
<line x1="287.90" y1="199.30" x2="289.00" y2="199.30" stroke="#7a7a7a" stroke-width="0.6"/>
<text x="287.30" y="200.94" font-size="4.0" fill="#000" text-anchor="end" font-weight="bold">38</text>
<line x1="287.90" y1="211.30" x2="289.00" y2="211.30" stroke="#7a7a7a" stroke-width="0.6"/>
<text x="287.30" y="212.94" font-size="4.0" fill="#000" text-anchor="end" font-weight="bold">25</text>
<line x1="287.90" y1="223.30" x2="289.00" y2="223.30" stroke="#7a7a7a" stroke-width="0.6"/>
<text x="287.30" y="224.94" font-size="4.0" fill="#000" text-anchor="end" font-weight="bold">13</text>
<line x1="287.90" y1="235.30" x2="289.00" y2="235.30" stroke="#7a7a7a" stroke-width="0.6"/>
<text x="287.30" y="236.94" font-size="4.0" fill="#000" text-anchor="end" font-weight="bold">0</text>
<text x="288.60" y="241.94" font-size="4.0" font-weight="bold" fill="#000">-10<tspan dy="-1.68" font-size="2.72">2</tspan></text>
<text x="299.20" y="241.94" font-size="4.0" font-weight="bold" fill="#000">10<tspan dy="-1.68" font-size="2.72">2</tspan></text>
<text x="313.60" y="241.94" font-size="4.0" font-weight="bold" fill="#000">10<tspan dy="-1.68" font-size="2.72">3</tspan></text>
<text x="326.40" y="241.94" font-size="4.0" font-weight="bold" fill="#000">10<tspan dy="-1.68" font-size="2.72">4</tspan></text>
<text x="338.40" y="241.94" font-size="4.0" font-weight="bold" fill="#000">10<tspan dy="-1.68" font-size="2.72">5</tspan></text>
<text x="313.00" y="186.14" font-size="7.06" fill="#000" font-weight="bold" textLength="20.00" lengthAdjust="spacingAndGlyphs">MYXV</text>
<text x="310.60" y="204.53" font-size="4.8" fill="#000" font-weight="bold" textLength="13.60" lengthAdjust="spacingAndGlyphs">0.08%</text>
<line x1="302.60" y1="206.00" x2="332.70" y2="206.00" stroke="#555" stroke-width="0.9"/>
<line x1="302.60" y1="203.80" x2="302.60" y2="208.20" stroke="#555" stroke-width="0.9"/>
<line x1="332.70" y1="203.80" x2="332.70" y2="208.20" stroke="#555" stroke-width="0.9"/>
<path d="M329.80,235.30 L329.80,235.20 L329.91,235.03 L330.07,234.84 L330.25,234.58 L330.46,234.23 L330.67,233.73 L330.90,233.05 L331.14,232.15 L331.40,231.06 L331.67,229.83 L331.95,228.50 L332.23,227.11 L332.50,225.70 L332.77,224.25 L333.03,222.70 L333.29,221.09 L333.56,219.45 L333.83,217.81 L334.10,216.21 L334.37,214.56 L334.64,212.85 L334.92,211.14 L335.20,209.50 L335.49,207.99 L335.80,206.71 L336.13,205.59 L336.47,204.57 L336.82,203.70 L337.19,203.00 L337.55,202.52 L337.90,202.30 L338.25,202.34 L338.60,202.60 L338.94,203.08 L339.29,203.77 L339.64,204.66 L340.00,205.73 L340.36,207.06 L340.73,208.69 L341.09,210.52 L341.46,212.44 L341.83,214.37 L342.20,216.21 L342.57,218.02 L342.96,219.92 L343.34,221.82 L343.71,223.65 L344.07,225.33 L344.40,226.78 L344.70,228.00 L344.96,229.04 L345.21,229.94 L345.45,230.71 L345.71,231.38 L346.00,231.97 L346.32,232.44 L346.67,232.77 L347.04,232.99 L347.40,233.16 L347.76,233.33 L348.10,233.54 L348.44,233.79 L348.79,234.06 L349.13,234.32 L349.44,234.56 L349.71,234.76 L349.90,234.91 L349.90,235.30 Z" fill="url(#hatchF)" stroke="#6a6aa6" stroke-width="1.0"/>
<text x="355.92" y="210.40" font-size="7.0" fill="#000" text-anchor="middle" font-weight="bold" textLength="35.30" lengthAdjust="spacingAndGlyphs" transform="rotate(-90 355.92 210.40)">Unst. cells</text>
<line x1="369.60" y1="187.00" x2="430.00" y2="187.00" stroke="#a0a0a0" stroke-width="0.7"/>
<line x1="430.00" y1="187.00" x2="430.00" y2="235.10" stroke="#a0a0a0" stroke-width="0.7"/>
<line x1="369.60" y1="186.70" x2="369.60" y2="235.60" stroke="#7a7a7a" stroke-width="1.0"/>
<line x1="369.10" y1="235.10" x2="430.00" y2="235.10" stroke="#7a7a7a" stroke-width="1.0"/>
<line x1="368.50" y1="187.00" x2="369.60" y2="187.00" stroke="#7a7a7a" stroke-width="0.6"/>
<text x="367.90" y="188.64" font-size="4.0" fill="#000" text-anchor="end" font-weight="bold">70</text>
<line x1="368.50" y1="199.03" x2="369.60" y2="199.03" stroke="#7a7a7a" stroke-width="0.6"/>
<text x="367.90" y="200.66" font-size="4.0" fill="#000" text-anchor="end" font-weight="bold">53</text>
<line x1="368.50" y1="211.05" x2="369.60" y2="211.05" stroke="#7a7a7a" stroke-width="0.6"/>
<text x="367.90" y="212.69" font-size="4.0" fill="#000" text-anchor="end" font-weight="bold">35</text>
<line x1="368.50" y1="223.07" x2="369.60" y2="223.07" stroke="#7a7a7a" stroke-width="0.6"/>
<text x="367.90" y="224.71" font-size="4.0" fill="#000" text-anchor="end" font-weight="bold">18</text>
<line x1="368.50" y1="235.10" x2="369.60" y2="235.10" stroke="#7a7a7a" stroke-width="0.6"/>
<text x="367.90" y="236.74" font-size="4.0" fill="#000" text-anchor="end" font-weight="bold">0</text>
<text x="367.50" y="242.44" font-size="4.0" font-weight="bold" fill="#000">-10<tspan dy="-1.68" font-size="2.72">2</tspan></text>
<text x="378.30" y="242.44" font-size="4.0" font-weight="bold" fill="#000">10<tspan dy="-1.68" font-size="2.72">2</tspan></text>
<text x="393.00" y="242.44" font-size="4.0" font-weight="bold" fill="#000">10<tspan dy="-1.68" font-size="2.72">3</tspan></text>
<text x="407.00" y="242.44" font-size="4.0" font-weight="bold" fill="#000">10<tspan dy="-1.68" font-size="2.72">4</tspan></text>
<text x="419.30" y="242.44" font-size="4.0" font-weight="bold" fill="#000">10<tspan dy="-1.68" font-size="2.72">5</tspan></text>
<text x="390.00" y="186.04" font-size="6.49" fill="#000" font-weight="bold" textLength="16.60" lengthAdjust="spacingAndGlyphs">Mock</text>
<text x="390.50" y="203.95" font-size="4.59" fill="#000" font-weight="bold" textLength="13.00" lengthAdjust="spacingAndGlyphs">0.10%</text>
<line x1="382.00" y1="205.70" x2="412.20" y2="205.70" stroke="#555" stroke-width="0.9"/>
<line x1="382.00" y1="203.50" x2="382.00" y2="207.90" stroke="#555" stroke-width="0.9"/>
<line x1="412.20" y1="203.50" x2="412.20" y2="207.90" stroke="#555" stroke-width="0.9"/>
<path d="M410.20,235.00 L410.31,234.82 L410.47,234.62 L410.65,234.37 L410.86,234.00 L411.07,233.49 L411.30,232.79 L411.54,231.87 L411.80,230.76 L412.07,229.50 L412.35,228.14 L412.63,226.71 L412.90,225.27 L413.17,223.78 L413.43,222.19 L413.69,220.54 L413.96,218.87 L414.23,217.19 L414.50,215.54 L414.77,213.86 L415.04,212.11 L415.32,210.35 L415.60,208.67 L415.89,207.13 L416.20,205.81 L416.53,204.67 L416.87,203.63 L417.22,202.73 L417.59,202.02 L417.95,201.53 L418.30,201.30 L418.65,201.34 L419.00,201.61 L419.34,202.10 L419.69,202.81 L420.04,203.71 L420.40,204.81 L420.76,206.18 L421.13,207.85 L421.49,209.72 L421.86,211.69 L422.23,213.66 L422.60,215.54 L422.97,217.42 L423.36,219.39 L423.74,221.36 L424.11,223.24 L424.47,224.94 L424.80,226.37 L425.09,227.50 L425.34,228.39 L425.57,229.11 L425.81,229.69 L426.08,230.20 L426.40,230.69 L426.79,231.11 L427.24,231.40 L427.72,231.63 L428.20,231.82 L428.67,232.03 L429.10,232.29 L429.51,232.64 L429.92,233.03 L430.32,233.45 L430.68,233.83 L430.98,234.16 L431.20,234.40" fill="none" stroke="#111" stroke-width="1.0"/>
<line x1="438.60" y1="187.00" x2="498.80" y2="187.00" stroke="#a0a0a0" stroke-width="0.7"/>
<line x1="498.80" y1="187.00" x2="498.80" y2="235.10" stroke="#a0a0a0" stroke-width="0.7"/>
<line x1="438.60" y1="186.70" x2="438.60" y2="235.60" stroke="#7a7a7a" stroke-width="1.0"/>
<line x1="438.10" y1="235.10" x2="498.80" y2="235.10" stroke="#7a7a7a" stroke-width="1.0"/>
<line x1="437.50" y1="187.00" x2="438.60" y2="187.00" stroke="#7a7a7a" stroke-width="0.6"/>
<text x="436.90" y="188.64" font-size="4.0" fill="#000" text-anchor="end" font-weight="bold">70</text>
<line x1="437.50" y1="199.03" x2="438.60" y2="199.03" stroke="#7a7a7a" stroke-width="0.6"/>
<text x="436.90" y="200.66" font-size="4.0" fill="#000" text-anchor="end" font-weight="bold">53</text>
<line x1="437.50" y1="211.05" x2="438.60" y2="211.05" stroke="#7a7a7a" stroke-width="0.6"/>
<text x="436.90" y="212.69" font-size="4.0" fill="#000" text-anchor="end" font-weight="bold">35</text>
<line x1="437.50" y1="223.07" x2="438.60" y2="223.07" stroke="#7a7a7a" stroke-width="0.6"/>
<text x="436.90" y="224.71" font-size="4.0" fill="#000" text-anchor="end" font-weight="bold">18</text>
<line x1="437.50" y1="235.10" x2="438.60" y2="235.10" stroke="#7a7a7a" stroke-width="0.6"/>
<text x="436.90" y="236.74" font-size="4.0" fill="#000" text-anchor="end" font-weight="bold">0</text>
<text x="435.20" y="241.94" font-size="4.0" font-weight="bold" fill="#000">-10<tspan dy="-1.68" font-size="2.72">2</tspan></text>
<text x="445.80" y="241.94" font-size="4.0" font-weight="bold" fill="#000">10<tspan dy="-1.68" font-size="2.72">2</tspan></text>
<text x="460.20" y="241.94" font-size="4.0" font-weight="bold" fill="#000">10<tspan dy="-1.68" font-size="2.72">3</tspan></text>
<text x="473.00" y="241.94" font-size="4.0" font-weight="bold" fill="#000">10<tspan dy="-1.68" font-size="2.72">4</tspan></text>
<text x="485.00" y="241.94" font-size="4.0" font-weight="bold" fill="#000">10<tspan dy="-1.68" font-size="2.72">5</tspan></text>
<text x="458.30" y="186.45" font-size="6.53" fill="#000" font-weight="bold" textLength="18.50" lengthAdjust="spacingAndGlyphs">MYXV</text>
<text x="459.20" y="204.03" font-size="4.8" fill="#000" font-weight="bold" textLength="13.60" lengthAdjust="spacingAndGlyphs">0.00%</text>
<line x1="451.00" y1="205.70" x2="481.20" y2="205.70" stroke="#555" stroke-width="0.9"/>
<line x1="451.00" y1="203.50" x2="451.00" y2="207.90" stroke="#555" stroke-width="0.9"/>
<line x1="481.20" y1="203.50" x2="481.20" y2="207.90" stroke="#555" stroke-width="0.9"/>
<path d="M479.60,235.10 L479.60,235.00 L479.71,234.83 L479.87,234.64 L480.05,234.39 L480.26,234.04 L480.47,233.54 L480.70,232.86 L480.94,231.97 L481.20,230.89 L481.47,229.67 L481.75,228.34 L482.03,226.96 L482.30,225.56 L482.57,224.11 L482.83,222.57 L483.09,220.98 L483.36,219.35 L483.63,217.72 L483.90,216.12 L484.17,214.49 L484.44,212.79 L484.72,211.08 L485.00,209.45 L485.29,207.96 L485.60,206.68 L485.93,205.57 L486.27,204.56 L486.62,203.69 L486.99,203.00 L487.35,202.52 L487.70,202.30 L488.05,202.34 L488.40,202.60 L488.74,203.08 L489.09,203.76 L489.44,204.64 L489.80,205.71 L490.16,207.04 L490.53,208.66 L490.89,210.47 L491.26,212.38 L491.63,214.30 L492.00,216.12 L492.37,217.93 L492.76,219.82 L493.14,221.71 L493.51,223.52 L493.87,225.19 L494.20,226.63 L494.50,227.84 L494.76,228.88 L495.01,229.77 L495.25,230.54 L495.51,231.20 L495.80,231.79 L496.12,232.26 L496.47,232.58 L496.84,232.81 L497.20,232.98 L497.56,233.14 L497.90,233.35 L498.24,233.60 L498.59,233.87 L498.93,234.13 L499.24,234.36 L499.51,234.56 L499.70,234.71 L499.70,235.10 Z" fill="url(#hatchF)" stroke="#6a6aa6" stroke-width="1.0"/>
<text x="504.82" y="210.90" font-size="7.0" fill="#000" text-anchor="middle" font-weight="bold" textLength="34.40" lengthAdjust="spacingAndGlyphs" transform="rotate(-90 504.82 210.90)">Unst. cells</text>
<line x1="222.50" y1="255.80" x2="279.80" y2="255.80" stroke="#a0a0a0" stroke-width="0.7"/>
<line x1="279.80" y1="255.80" x2="279.80" y2="303.70" stroke="#a0a0a0" stroke-width="0.7"/>
<line x1="222.50" y1="255.50" x2="222.50" y2="304.20" stroke="#7a7a7a" stroke-width="1.0"/>
<line x1="222.00" y1="303.70" x2="279.80" y2="303.70" stroke="#7a7a7a" stroke-width="1.0"/>
<line x1="221.40" y1="255.80" x2="222.50" y2="255.80" stroke="#7a7a7a" stroke-width="0.6"/>
<text x="220.80" y="257.44" font-size="4.0" fill="#000" text-anchor="end" font-weight="bold">150</text>
<line x1="221.40" y1="267.77" x2="222.50" y2="267.77" stroke="#7a7a7a" stroke-width="0.6"/>
<text x="220.80" y="269.41" font-size="4.0" fill="#000" text-anchor="end" font-weight="bold">113</text>
<line x1="221.40" y1="279.75" x2="222.50" y2="279.75" stroke="#7a7a7a" stroke-width="0.6"/>
<text x="220.80" y="281.39" font-size="4.0" fill="#000" text-anchor="end" font-weight="bold">75</text>
<line x1="221.40" y1="291.73" x2="222.50" y2="291.73" stroke="#7a7a7a" stroke-width="0.6"/>
<text x="220.80" y="293.37" font-size="4.0" fill="#000" text-anchor="end" font-weight="bold">38</text>
<line x1="221.40" y1="303.70" x2="222.50" y2="303.70" stroke="#7a7a7a" stroke-width="0.6"/>
<text x="220.80" y="305.34" font-size="4.0" fill="#000" text-anchor="end" font-weight="bold">0</text>
<text x="220.20" y="309.94" font-size="4.0" font-weight="bold" fill="#000">-10<tspan dy="-1.68" font-size="2.72">2</tspan></text>
<text x="231.90" y="309.94" font-size="4.0" font-weight="bold" fill="#000">10<tspan dy="-1.68" font-size="2.72">2</tspan></text>
<text x="246.20" y="309.94" font-size="4.0" font-weight="bold" fill="#000">10<tspan dy="-1.68" font-size="2.72">3</tspan></text>
<text x="260.60" y="309.94" font-size="4.0" font-weight="bold" fill="#000">10<tspan dy="-1.68" font-size="2.72">4</tspan></text>
<text x="273.10" y="309.94" font-size="4.0" font-weight="bold" fill="#000">10<tspan dy="-1.68" font-size="2.72">5</tspan></text>
<text x="243.50" y="254.59" font-size="6.65" fill="#000" font-weight="bold" textLength="17.00" lengthAdjust="spacingAndGlyphs">Mock</text>
<text x="249.40" y="268.96" font-size="4.33" fill="#000" font-weight="bold" textLength="14.70" lengthAdjust="spacingAndGlyphs">71.92%</text>
<line x1="243.10" y1="271.50" x2="270.30" y2="271.50" stroke="#555" stroke-width="0.9"/>
<line x1="243.10" y1="269.30" x2="243.10" y2="273.70" stroke="#555" stroke-width="0.9"/>
<line x1="270.30" y1="269.30" x2="270.30" y2="273.70" stroke="#555" stroke-width="0.9"/>
<path d="M257.60,303.70 L257.60,303.70 L257.82,303.46 L258.13,303.12 L258.49,302.72 L258.86,302.29 L259.21,301.87 L259.50,301.50 L259.71,301.26 L259.89,301.14 L260.03,301.03 L260.17,300.81 L260.32,300.38 L260.50,299.60 L260.71,298.45 L260.94,297.02 L261.18,295.37 L261.43,293.56 L261.67,291.65 L261.90,289.70 L262.12,287.39 L262.32,284.60 L262.52,281.71 L262.73,279.11 L262.96,277.18 L263.20,276.30 L263.47,276.94 L263.76,278.87 L264.06,281.48 L264.37,284.13 L264.69,286.18 L265.00,287.00 L265.30,286.12 L265.60,283.96 L265.91,281.20 L266.22,278.54 L266.55,276.68 L266.90,276.30 L267.29,277.87 L267.73,280.92 L268.17,284.77 L268.62,288.72 L269.03,292.10 L269.40,294.20 L269.71,294.88 L269.99,294.66 L270.23,293.86 L270.46,292.80 L270.68,291.80 L270.90,291.20 L271.10,290.87 L271.27,290.53 L271.43,290.26 L271.60,290.13 L271.82,290.22 L272.10,290.60 L272.46,291.38 L272.89,292.51 L273.36,293.87 L273.84,295.30 L274.33,296.65 L274.80,297.80 L275.26,298.77 L275.74,299.68 L276.22,300.52 L276.69,301.29 L277.12,301.95 L277.50,302.50 L277.84,302.92 L278.14,303.20 L278.42,303.39 L278.66,303.52 L278.85,303.61 L279.00,303.70 L279.00,303.70 Z" fill="#d41818" stroke="#a01010" stroke-width="0.5"/>
<line x1="291.60" y1="255.70" x2="349.40" y2="255.70" stroke="#a0a0a0" stroke-width="0.7"/>
<line x1="349.40" y1="255.70" x2="349.40" y2="303.70" stroke="#a0a0a0" stroke-width="0.7"/>
<line x1="291.60" y1="255.40" x2="291.60" y2="304.20" stroke="#7a7a7a" stroke-width="1.0"/>
<line x1="291.10" y1="303.70" x2="349.40" y2="303.70" stroke="#7a7a7a" stroke-width="1.0"/>
<line x1="290.50" y1="255.70" x2="291.60" y2="255.70" stroke="#7a7a7a" stroke-width="0.6"/>
<text x="289.90" y="257.34" font-size="4.0" fill="#000" text-anchor="end" font-weight="bold">150</text>
<line x1="290.50" y1="267.70" x2="291.60" y2="267.70" stroke="#7a7a7a" stroke-width="0.6"/>
<text x="289.90" y="269.34" font-size="4.0" fill="#000" text-anchor="end" font-weight="bold">113</text>
<line x1="290.50" y1="279.70" x2="291.60" y2="279.70" stroke="#7a7a7a" stroke-width="0.6"/>
<text x="289.90" y="281.34" font-size="4.0" fill="#000" text-anchor="end" font-weight="bold">75</text>
<line x1="290.50" y1="291.70" x2="291.60" y2="291.70" stroke="#7a7a7a" stroke-width="0.6"/>
<text x="289.90" y="293.34" font-size="4.0" fill="#000" text-anchor="end" font-weight="bold">38</text>
<line x1="290.50" y1="303.70" x2="291.60" y2="303.70" stroke="#7a7a7a" stroke-width="0.6"/>
<text x="289.90" y="305.34" font-size="4.0" fill="#000" text-anchor="end" font-weight="bold">0</text>
<text x="288.90" y="309.94" font-size="4.0" font-weight="bold" fill="#000">-10<tspan dy="-1.68" font-size="2.72">2</tspan></text>
<text x="300.70" y="309.94" font-size="4.0" font-weight="bold" fill="#000">10<tspan dy="-1.68" font-size="2.72">2</tspan></text>
<text x="315.00" y="309.94" font-size="4.0" font-weight="bold" fill="#000">10<tspan dy="-1.68" font-size="2.72">3</tspan></text>
<text x="329.30" y="309.94" font-size="4.0" font-weight="bold" fill="#000">10<tspan dy="-1.68" font-size="2.72">4</tspan></text>
<text x="341.80" y="309.94" font-size="4.0" font-weight="bold" fill="#000">10<tspan dy="-1.68" font-size="2.72">5</tspan></text>
<text x="312.20" y="254.36" font-size="6.0" fill="#000" font-weight="bold" textLength="17.00" lengthAdjust="spacingAndGlyphs">MYXV</text>
<text x="316.70" y="269.01" font-size="4.48" fill="#000" font-weight="bold" textLength="15.20" lengthAdjust="spacingAndGlyphs">66.89%</text>
<line x1="312.20" y1="271.50" x2="339.10" y2="271.50" stroke="#555" stroke-width="0.9"/>
<line x1="312.20" y1="269.30" x2="312.20" y2="273.70" stroke="#555" stroke-width="0.9"/>
<line x1="339.10" y1="269.30" x2="339.10" y2="273.70" stroke="#555" stroke-width="0.9"/>
<path d="M329.50,303.70 L329.50,303.70 L329.64,303.08 L329.84,302.22 L330.08,301.20 L330.33,300.10 L330.58,299.01 L330.80,298.00 L330.99,296.94 L331.17,295.75 L331.34,294.56 L331.52,293.51 L331.70,292.75 L331.90,292.40 L332.12,292.76 L332.36,293.76 L332.60,295.04 L332.84,296.24 L333.08,296.98 L333.30,296.90 L333.50,295.88 L333.69,294.20 L333.87,292.06 L334.04,289.67 L334.22,287.25 L334.40,285.00 L334.58,282.57 L334.77,279.72 L334.95,276.83 L335.13,274.29 L335.32,272.49 L335.50,271.80 L335.68,272.55 L335.87,274.49 L336.06,277.17 L336.24,280.12 L336.42,282.88 L336.60,285.00 L336.77,286.63 L336.94,288.18 L337.11,289.54 L337.27,290.62 L337.43,291.30 L337.60,291.50 L337.77,291.07 L337.93,290.08 L338.10,288.69 L338.27,287.10 L338.43,285.48 L338.60,284.00 L338.77,282.40 L338.93,280.47 L339.10,278.51 L339.27,276.81 L339.43,275.68 L339.60,275.40 L339.77,276.18 L339.93,277.83 L340.09,280.04 L340.26,282.51 L340.43,284.93 L340.60,287.00 L340.76,288.80 L340.90,290.59 L341.04,292.32 L341.21,293.98 L341.42,295.52 L341.70,296.90 L342.06,298.13 L342.49,299.25 L342.96,300.24 L343.45,301.12 L343.94,301.87 L344.40,302.50 L344.87,302.97 L345.37,303.27 L345.87,303.45 L346.33,303.55 L346.72,303.62 L347.00,303.70 L347.00,303.70 Z" fill="url(#hatchG2)" stroke="#5a8a3a" stroke-width="1.0"/>
<text x="355.52" y="279.90" font-size="7.0" fill="#000" text-anchor="middle" font-weight="bold" textLength="34.00" lengthAdjust="spacingAndGlyphs" transform="rotate(-90 355.52 279.90)">Stim. cells</text>
<line x1="371.60" y1="254.80" x2="430.70" y2="254.80" stroke="#a0a0a0" stroke-width="0.7"/>
<line x1="430.70" y1="254.80" x2="430.70" y2="303.70" stroke="#a0a0a0" stroke-width="0.7"/>
<line x1="371.60" y1="254.50" x2="371.60" y2="304.20" stroke="#7a7a7a" stroke-width="1.0"/>
<line x1="371.10" y1="303.70" x2="430.70" y2="303.70" stroke="#7a7a7a" stroke-width="1.0"/>
<line x1="370.50" y1="254.80" x2="371.60" y2="254.80" stroke="#7a7a7a" stroke-width="0.6"/>
<text x="369.90" y="256.44" font-size="4.0" fill="#000" text-anchor="end" font-weight="bold">50</text>
<line x1="370.50" y1="267.02" x2="371.60" y2="267.02" stroke="#7a7a7a" stroke-width="0.6"/>
<text x="369.90" y="268.66" font-size="4.0" fill="#000" text-anchor="end" font-weight="bold">38</text>
<line x1="370.50" y1="279.25" x2="371.60" y2="279.25" stroke="#7a7a7a" stroke-width="0.6"/>
<text x="369.90" y="280.89" font-size="4.0" fill="#000" text-anchor="end" font-weight="bold">25</text>
<line x1="370.50" y1="291.48" x2="371.60" y2="291.48" stroke="#7a7a7a" stroke-width="0.6"/>
<text x="369.90" y="293.12" font-size="4.0" fill="#000" text-anchor="end" font-weight="bold">13</text>
<line x1="370.50" y1="303.70" x2="371.60" y2="303.70" stroke="#7a7a7a" stroke-width="0.6"/>
<text x="369.90" y="305.34" font-size="4.0" fill="#000" text-anchor="end" font-weight="bold">0</text>
<text x="370.70" y="309.94" font-size="4.0" font-weight="bold" fill="#000">-10<tspan dy="-1.68" font-size="2.72">2</tspan></text>
<text x="381.60" y="309.94" font-size="4.0" font-weight="bold" fill="#000">10<tspan dy="-1.68" font-size="2.72">2</tspan></text>
<text x="395.90" y="309.94" font-size="4.0" font-weight="bold" fill="#000">10<tspan dy="-1.68" font-size="2.72">3</tspan></text>
<text x="410.20" y="309.94" font-size="4.0" font-weight="bold" fill="#000">10<tspan dy="-1.68" font-size="2.72">4</tspan></text>
<text x="424.00" y="309.94" font-size="4.0" font-weight="bold" fill="#000">10<tspan dy="-1.68" font-size="2.72">5</tspan></text>
<text x="392.20" y="254.98" font-size="6.89" fill="#000" font-weight="bold" textLength="17.60" lengthAdjust="spacingAndGlyphs">Mock</text>
<text x="398.00" y="265.92" font-size="4.51" fill="#000" font-weight="bold" textLength="15.30" lengthAdjust="spacingAndGlyphs">63.10%</text>
<line x1="393.10" y1="267.90" x2="420.80" y2="267.90" stroke="#555" stroke-width="0.9"/>
<line x1="393.10" y1="265.70" x2="393.10" y2="270.10" stroke="#555" stroke-width="0.9"/>
<line x1="420.80" y1="265.70" x2="420.80" y2="270.10" stroke="#555" stroke-width="0.9"/>
<path d="M409.00,303.70 L409.00,303.70 L409.16,303.20 L409.39,302.52 L409.66,301.71 L409.95,300.81 L410.24,299.90 L410.50,299.00 L410.72,298.13 L410.93,297.26 L411.13,296.36 L411.34,295.41 L411.59,294.39 L411.90,293.30 L412.27,292.07 L412.69,290.71 L413.15,289.28 L413.63,287.86 L414.12,286.51 L414.60,285.30 L415.08,284.10 L415.58,282.84 L416.09,281.66 L416.60,280.68 L417.10,280.05 L417.60,279.90 L418.10,280.47 L418.60,281.70 L419.11,283.28 L419.60,284.89 L420.06,286.23 L420.50,287.00 L420.90,287.02 L421.27,286.49 L421.62,285.70 L421.95,284.91 L422.28,284.38 L422.60,284.40 L422.91,284.99 L423.21,285.94 L423.49,287.17 L423.78,288.57 L424.08,290.04 L424.40,291.50 L424.75,293.08 L425.13,294.87 L425.52,296.75 L425.91,298.56 L426.27,300.16 L426.60,301.40 L426.90,302.25 L427.18,302.81 L427.44,303.17 L427.67,303.39 L427.86,303.54 L428.00,303.70 L428.00,303.70 Z" fill="#d41818" stroke="#a01010" stroke-width="0.5"/>
<line x1="440.40" y1="254.80" x2="500.20" y2="254.80" stroke="#a0a0a0" stroke-width="0.7"/>
<line x1="500.20" y1="254.80" x2="500.20" y2="304.10" stroke="#a0a0a0" stroke-width="0.7"/>
<line x1="440.40" y1="254.50" x2="440.40" y2="304.60" stroke="#7a7a7a" stroke-width="1.0"/>
<line x1="439.90" y1="304.10" x2="500.20" y2="304.10" stroke="#7a7a7a" stroke-width="1.0"/>
<line x1="439.30" y1="254.80" x2="440.40" y2="254.80" stroke="#7a7a7a" stroke-width="0.6"/>
<text x="438.70" y="256.44" font-size="4.0" fill="#000" text-anchor="end" font-weight="bold">50</text>
<line x1="439.30" y1="267.12" x2="440.40" y2="267.12" stroke="#7a7a7a" stroke-width="0.6"/>
<text x="438.70" y="268.76" font-size="4.0" fill="#000" text-anchor="end" font-weight="bold">38</text>
<line x1="439.30" y1="279.45" x2="440.40" y2="279.45" stroke="#7a7a7a" stroke-width="0.6"/>
<text x="438.70" y="281.09" font-size="4.0" fill="#000" text-anchor="end" font-weight="bold">25</text>
<line x1="439.30" y1="291.78" x2="440.40" y2="291.78" stroke="#7a7a7a" stroke-width="0.6"/>
<text x="438.70" y="293.42" font-size="4.0" fill="#000" text-anchor="end" font-weight="bold">13</text>
<line x1="439.30" y1="304.10" x2="440.40" y2="304.10" stroke="#7a7a7a" stroke-width="0.6"/>
<text x="438.70" y="305.74" font-size="4.0" fill="#000" text-anchor="end" font-weight="bold">0</text>
<text x="439.80" y="310.64" font-size="4.0" font-weight="bold" fill="#000">-10<tspan dy="-1.68" font-size="2.72">2</tspan></text>
<text x="450.70" y="310.64" font-size="4.0" font-weight="bold" fill="#000">10<tspan dy="-1.68" font-size="2.72">2</tspan></text>
<text x="466.40" y="310.64" font-size="4.0" font-weight="bold" fill="#000">10<tspan dy="-1.68" font-size="2.72">3</tspan></text>
<text x="480.20" y="310.64" font-size="4.0" font-weight="bold" fill="#000">10<tspan dy="-1.68" font-size="2.72">4</tspan></text>
<text x="493.30" y="310.64" font-size="4.0" font-weight="bold" fill="#000">10<tspan dy="-1.68" font-size="2.72">5</tspan></text>
<text x="462.20" y="254.89" font-size="6.63" fill="#000" font-weight="bold" textLength="18.80" lengthAdjust="spacingAndGlyphs">MYXV</text>
<text x="466.70" y="265.32" font-size="4.22" fill="#000" font-weight="bold" textLength="14.30" lengthAdjust="spacingAndGlyphs">57.30%</text>
<line x1="462.20" y1="267.90" x2="490.00" y2="267.90" stroke="#555" stroke-width="0.9"/>
<line x1="462.20" y1="265.70" x2="462.20" y2="270.10" stroke="#555" stroke-width="0.9"/>
<line x1="490.00" y1="265.70" x2="490.00" y2="270.10" stroke="#555" stroke-width="0.9"/>
<path d="M480.80,304.10 L480.80,304.10 L481.03,303.46 L481.35,302.54 L481.72,301.48 L482.12,300.39 L482.49,299.42 L482.80,298.70 L483.05,298.39 L483.27,298.41 L483.48,298.54 L483.66,298.58 L483.83,298.31 L484.00,297.50 L484.15,296.09 L484.29,294.23 L484.41,292.05 L484.53,289.70 L484.66,287.30 L484.80,285.00 L484.96,282.43 L485.12,279.41 L485.29,276.34 L485.46,273.65 L485.63,271.73 L485.80,271.00 L485.96,271.76 L486.12,273.74 L486.27,276.49 L486.44,279.59 L486.61,282.57 L486.80,285.00 L487.01,287.14 L487.24,289.40 L487.48,291.56 L487.73,293.37 L487.97,294.63 L488.20,295.10 L488.43,294.63 L488.65,293.37 L488.88,291.56 L489.09,289.40 L489.30,287.14 L489.50,285.00 L489.69,282.59 L489.86,279.66 L490.02,276.62 L490.19,273.89 L490.34,271.87 L490.50,271.00 L490.66,271.52 L490.81,273.14 L490.96,275.48 L491.10,278.16 L491.25,280.80 L491.40,283.00 L491.54,284.84 L491.66,286.64 L491.77,288.39 L491.91,290.09 L492.08,291.73 L492.30,293.30 L492.59,294.84 L492.93,296.36 L493.31,297.82 L493.69,299.18 L494.07,300.39 L494.40,301.40 L494.71,302.19 L495.03,302.80 L495.33,303.26 L495.60,303.60 L495.83,303.87 L496.00,304.10 L496.00,304.10 Z" fill="url(#hatchG2)" stroke="#5a8a3a" stroke-width="1.0"/>
<text x="507.02" y="279.90" font-size="7.0" fill="#000" text-anchor="middle" font-weight="bold" textLength="34.00" lengthAdjust="spacingAndGlyphs" transform="rotate(-90 507.02 279.90)">Stim. cells</text>
<text x="213.22" y="252.60" font-size="7.0" fill="#000" text-anchor="middle" font-weight="bold" textLength="20.50" lengthAdjust="spacingAndGlyphs" transform="rotate(-90 213.22 252.60)">Count</text>
<text x="363.52" y="253.00" font-size="7.0" fill="#000" text-anchor="middle" font-weight="bold" textLength="20.50" lengthAdjust="spacingAndGlyphs" transform="rotate(-90 363.52 253.00)">Count</text>
<line x1="211.30" y1="316.20" x2="211.30" y2="299.00" stroke="#000" stroke-width="1.1"/>
<line x1="210.75" y1="316.20" x2="230.60" y2="316.20" stroke="#000" stroke-width="1.1"/>
<path d="M211.30,296.90 L209.73,300.26 L212.88,300.26 Z" fill="#000" stroke="none" stroke-width="1"/>
<path d="M232.70,316.20 L229.34,314.62 L229.34,317.77 Z" fill="#000" stroke="none" stroke-width="1"/>
<line x1="361.80" y1="316.20" x2="361.80" y2="299.30" stroke="#000" stroke-width="1.1"/>
<line x1="361.25" y1="316.20" x2="380.30" y2="316.20" stroke="#000" stroke-width="1.1"/>
<path d="M361.80,297.20 L360.23,300.56 L363.38,300.56 Z" fill="#000" stroke="none" stroke-width="1"/>
<path d="M382.40,316.20 L379.04,314.62 L379.04,317.77 Z" fill="#000" stroke="none" stroke-width="1"/>
<text x="258.20" y="318.70" font-size="6.94" fill="#000" font-weight="bold" textLength="51.30" lengthAdjust="spacingAndGlyphs">Cell trace violet</text>
<text x="408.20" y="319.30" font-size="6.94" fill="#000" font-weight="bold" textLength="51.30" lengthAdjust="spacingAndGlyphs">Cell trace violet</text>
<line x1="226.60" y1="339.50" x2="333.60" y2="339.50" stroke="#a0a0a0" stroke-width="0.7"/>
<line x1="333.60" y1="339.50" x2="333.60" y2="410.80" stroke="#a0a0a0" stroke-width="0.7"/>
<line x1="226.60" y1="339.20" x2="226.60" y2="411.20" stroke="#666" stroke-width="1.0"/>
<line x1="226.10" y1="410.80" x2="333.60" y2="410.80" stroke="#666" stroke-width="1.0"/>
<line x1="225.30" y1="339.50" x2="226.60" y2="339.50" stroke="#666" stroke-width="0.6"/>
<text x="225.00" y="341.61" font-size="4.2" fill="#000" text-anchor="end" font-weight="bold">100</text>
<line x1="225.30" y1="353.76" x2="226.60" y2="353.76" stroke="#666" stroke-width="0.6"/>
<text x="225.00" y="355.87" font-size="4.2" fill="#000" text-anchor="end" font-weight="bold">80</text>
<line x1="225.30" y1="368.02" x2="226.60" y2="368.02" stroke="#666" stroke-width="0.6"/>
<text x="225.00" y="370.13" font-size="4.2" fill="#000" text-anchor="end" font-weight="bold">60</text>
<line x1="225.30" y1="382.28" x2="226.60" y2="382.28" stroke="#666" stroke-width="0.6"/>
<text x="225.00" y="384.39" font-size="4.2" fill="#000" text-anchor="end" font-weight="bold">40</text>
<line x1="225.30" y1="396.54" x2="226.60" y2="396.54" stroke="#666" stroke-width="0.6"/>
<text x="225.00" y="398.65" font-size="4.2" fill="#000" text-anchor="end" font-weight="bold">20</text>
<line x1="225.30" y1="410.80" x2="226.60" y2="410.80" stroke="#666" stroke-width="0.6"/>
<text x="225.00" y="412.91" font-size="4.2" fill="#000" text-anchor="end" font-weight="bold">0</text>
<text x="248.80" y="338.37" font-size="3.8" font-weight="bold" textLength="60.70" lengthAdjust="spacingAndGlyphs"><tspan>Gating on CD4</tspan><tspan dy="-1.60" font-size="2.36">+</tspan><tspan dy="1.60">CD25</tspan><tspan dy="-1.60" font-size="2.36">+</tspan><tspan dy="1.60">FoxP3</tspan><tspan dy="-1.60" font-size="2.36">+</tspan></text>
<text x="335.50" y="334.26" font-size="10.44" fill="#000" font-weight="bold" textLength="5.80" lengthAdjust="spacingAndGlyphs">ii</text>
<text x="322.10" y="346.03" font-size="4.25" fill="#000" font-weight="bold" textLength="8.50" lengthAdjust="spacingAndGlyphs">96 h</text>
<rect x="227.60" y="341.80" width="2.80" height="4.00" fill="#fff" stroke="#222" stroke-width="0.5"/>
<text x="232.00" y="345.36" font-size="4.34" fill="#000" font-weight="bold" textLength="11.10" lengthAdjust="spacingAndGlyphs">Mock</text>
<rect x="227.60" y="348.10" width="2.80" height="4.30" fill="#111" stroke="none" stroke-width="1"/>
<text x="232.00" y="351.80" font-size="4.45" fill="#000" font-weight="bold" textLength="25.60" lengthAdjust="spacingAndGlyphs">+ vMyx-GFP</text>
<rect x="289.10" y="361.30" width="13.90" height="49.50" fill="#fff" stroke="#111" stroke-width="0.6"/>
<rect x="309.40" y="357.70" width="13.40" height="53.10" fill="#111" stroke="#111" stroke-width="0.6"/>
<line x1="296.00" y1="358.30" x2="296.00" y2="364.00" stroke="#333" stroke-width="0.6"/>
<line x1="293.25" y1="358.30" x2="298.75" y2="358.30" stroke="#333" stroke-width="0.6"/>
<line x1="293.25" y1="364.00" x2="298.75" y2="364.00" stroke="#333" stroke-width="0.6"/>
<line x1="316.10" y1="355.50" x2="316.10" y2="357.70" stroke="#333" stroke-width="0.6"/>
<line x1="312.85" y1="355.50" x2="319.35" y2="355.50" stroke="#333" stroke-width="0.6"/>
<line x1="312.85" y1="357.70" x2="319.35" y2="357.70" stroke="#333" stroke-width="0.6"/>
<text x="233.00" y="416.33" font-size="4.53" fill="#000" font-weight="bold" textLength="40.00" lengthAdjust="spacingAndGlyphs">Unstimulated cells</text>
<text x="289.10" y="416.31" font-size="4.48" fill="#000" font-weight="bold" textLength="34.10" lengthAdjust="spacingAndGlyphs">Stimulated cells</text>
<text x="219.58" y="377.20" font-size="4.4" fill="#000" text-anchor="middle" font-weight="bold" textLength="33.00" lengthAdjust="spacingAndGlyphs" transform="rotate(-90 219.58 377.20)">% of Proliferation</text>
<rect x="239.70" y="409.90" width="7.00" height="0.70" fill="#444" stroke="none" stroke-width="1"/>
<line x1="395.30" y1="339.40" x2="501.30" y2="339.40" stroke="#a0a0a0" stroke-width="0.7"/>
<line x1="501.30" y1="339.40" x2="501.30" y2="409.20" stroke="#a0a0a0" stroke-width="0.7"/>
<line x1="395.30" y1="339.10" x2="395.30" y2="409.60" stroke="#666" stroke-width="1.0"/>
<line x1="394.80" y1="409.20" x2="501.30" y2="409.20" stroke="#666" stroke-width="1.0"/>
<line x1="394.00" y1="339.40" x2="395.30" y2="339.40" stroke="#666" stroke-width="0.6"/>
<text x="393.70" y="341.51" font-size="4.2" fill="#000" text-anchor="end" font-weight="bold">80</text>
<line x1="394.00" y1="356.85" x2="395.30" y2="356.85" stroke="#666" stroke-width="0.6"/>
<text x="393.70" y="358.96" font-size="4.2" fill="#000" text-anchor="end" font-weight="bold">60</text>
<line x1="394.00" y1="374.30" x2="395.30" y2="374.30" stroke="#666" stroke-width="0.6"/>
<text x="393.70" y="376.41" font-size="4.2" fill="#000" text-anchor="end" font-weight="bold">40</text>
<line x1="394.00" y1="391.75" x2="395.30" y2="391.75" stroke="#666" stroke-width="0.6"/>
<text x="393.70" y="393.86" font-size="4.2" fill="#000" text-anchor="end" font-weight="bold">20</text>
<line x1="394.00" y1="409.20" x2="395.30" y2="409.20" stroke="#666" stroke-width="0.6"/>
<text x="393.70" y="411.31" font-size="4.2" fill="#000" text-anchor="end" font-weight="bold">0</text>
<text x="417.50" y="337.67" font-size="3.8" font-weight="bold" textLength="62.00" lengthAdjust="spacingAndGlyphs"><tspan>Gating on CD4</tspan><tspan dy="-1.60" font-size="2.36">+</tspan><tspan dy="1.60">CD25</tspan><tspan dy="-1.60" font-size="2.36">+</tspan><tspan dy="1.60">Helios</tspan><tspan dy="-1.60" font-size="2.36">+</tspan></text>
<text x="502.50" y="334.92" font-size="12.0" fill="#000" font-weight="bold" textLength="10.00" lengthAdjust="spacingAndGlyphs">iii</text>
<text x="491.10" y="343.88" font-size="3.55" fill="#000" font-weight="bold" textLength="7.10" lengthAdjust="spacingAndGlyphs">96 h</text>
<rect x="396.60" y="341.00" width="2.80" height="4.00" fill="#fff" stroke="#222" stroke-width="0.5"/>
<text x="401.00" y="344.56" font-size="4.34" fill="#000" font-weight="bold" textLength="11.10" lengthAdjust="spacingAndGlyphs">Mock</text>
<rect x="396.60" y="347.30" width="2.80" height="4.30" fill="#111" stroke="none" stroke-width="1"/>
<text x="401.00" y="351.00" font-size="4.45" fill="#000" font-weight="bold" textLength="25.60" lengthAdjust="spacingAndGlyphs">+ vMyx-GFP</text>
<rect x="458.50" y="356.10" width="13.60" height="53.10" fill="#fff" stroke="#111" stroke-width="0.6"/>
<rect x="478.10" y="351.40" width="13.60" height="57.80" fill="#111" stroke="#111" stroke-width="0.6"/>
<line x1="465.10" y1="350.00" x2="465.10" y2="361.70" stroke="#333" stroke-width="0.6"/>
<line x1="462.05" y1="350.00" x2="468.15" y2="350.00" stroke="#333" stroke-width="0.6"/>
<line x1="462.05" y1="361.70" x2="468.15" y2="361.70" stroke="#333" stroke-width="0.6"/>
<line x1="484.90" y1="346.60" x2="484.90" y2="351.40" stroke="#333" stroke-width="0.6"/>
<line x1="481.70" y1="346.60" x2="488.10" y2="346.60" stroke="#333" stroke-width="0.6"/>
<line x1="481.70" y1="351.40" x2="488.10" y2="351.40" stroke="#333" stroke-width="0.6"/>
<text x="401.00" y="414.84" font-size="4.55" fill="#000" font-weight="bold" textLength="40.20" lengthAdjust="spacingAndGlyphs">Unstimulated cells</text>
<text x="457.60" y="415.25" font-size="4.58" fill="#000" font-weight="bold" textLength="34.90" lengthAdjust="spacingAndGlyphs">Stimulated cells</text>
<text x="388.28" y="375.10" font-size="4.4" fill="#000" text-anchor="middle" font-weight="bold" textLength="36.00" lengthAdjust="spacingAndGlyphs" transform="rotate(-90 388.28 375.10)">% of Proliferation</text></svg></body></html>
